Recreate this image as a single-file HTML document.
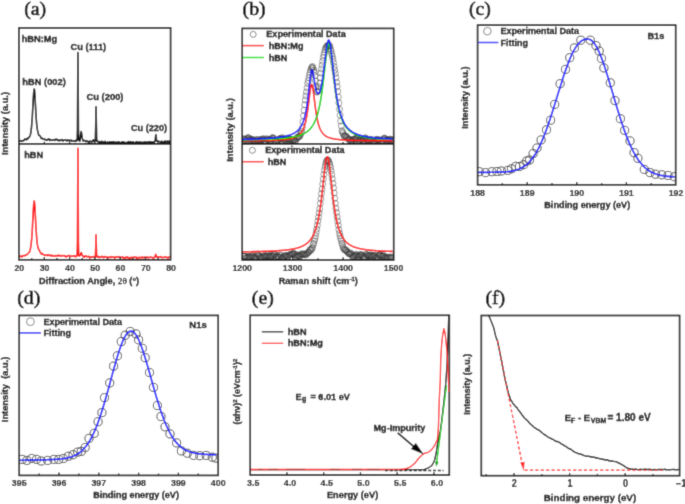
<!DOCTYPE html>
<html><head><meta charset="utf-8"><style>
html,body{margin:0;padding:0;background:#fff;width:685px;height:504px;overflow:hidden;}
svg{display:block;}
</style></head><body>
<svg width="685" height="504" viewBox="0 0 685 504"><defs><filter id="soft" x="0" y="0" width="685" height="504" filterUnits="userSpaceOnUse"><feConvolveMatrix order="3" kernelMatrix="0.01917 0.10012 0.01917 0.10012 0.52283 0.10012 0.01917 0.10012 0.01917" edgeMode="duplicate" preserveAlpha="true"/></filter></defs><rect width="685" height="504" fill="#fff"/><g filter="url(#soft)"><rect width="685" height="504" fill="#fff"/><text x="24.2" y="14.6" font-family="Liberation Serif" font-size="19.8" font-weight="normal" text-anchor="start" fill="#000" stroke="#000" stroke-width="0.6" >(a)</text>
<path d="M19.51,141.31 L19.81,141.01 L20.11,140.75 L20.42,140.50 L20.72,140.75 L21.02,141.25 L21.33,141.36 L21.63,141.12 L21.93,140.82 L22.24,141.03 L22.54,141.20 L22.85,140.72 L23.15,140.55 L23.45,140.66 L23.76,140.48 L24.06,140.28 L24.36,139.43 L24.67,139.37 L24.97,138.87 L25.27,139.27 L25.58,139.18 L25.88,139.71 L26.19,139.70 L26.49,139.90 L26.79,138.91 L27.10,138.55 L27.40,138.41 L27.70,138.99 L28.01,138.47 L28.31,138.08 L28.61,137.45 L28.92,137.31 L29.22,137.34 L29.52,136.87 L29.83,136.44 L30.13,135.54 L30.44,134.50 L30.74,133.03 L31.04,130.92 L31.35,128.70 L31.65,125.32 L31.95,121.55 L32.26,117.45 L32.56,112.20 L32.86,106.76 L33.17,100.55 L33.47,95.38 L33.78,91.47 L34.08,89.45 L34.18,89.11 L34.38,89.05 L34.69,91.78 L34.99,96.64 L35.29,102.29 L35.60,107.74 L35.90,113.34 L36.20,118.34 L36.51,122.23 L36.81,125.44 L37.11,127.55 L37.42,129.89 L37.72,131.09 L38.03,132.29 L38.23,132.86 L38.33,133.78 L38.63,135.04 L38.94,135.31 L39.24,135.32 L39.54,135.60 L39.85,135.79 L40.15,136.24 L40.45,136.33 L40.76,137.59 L41.06,138.20 L41.37,138.37 L41.67,138.10 L41.97,138.01 L42.28,138.75 L42.58,138.89 L42.88,139.02 L43.19,138.80 L43.49,139.01 L43.79,139.15 L44.10,138.80 L44.40,138.92 L44.70,138.93 L45.01,139.68 L45.31,139.94 L45.62,140.13 L45.92,140.03 L46.22,139.78 L46.53,140.14 L46.83,139.97 L47.13,140.29 L47.44,139.61 L47.74,139.74 L48.04,139.09 L48.35,138.88 L48.65,138.71 L48.96,138.96 L49.26,139.64 L49.56,140.41 L49.87,140.45 L50.17,140.22 L50.47,139.62 L50.78,140.02 L51.08,140.17 L51.38,140.05 L51.69,140.12 L51.99,140.33 L52.29,140.09 L52.60,139.86 L52.90,139.72 L53.21,139.72 L53.51,139.82 L53.81,139.56 L54.12,140.17 L54.42,140.15 L54.72,140.44 L55.03,139.98 L55.33,139.89 L55.63,139.27 L55.94,139.11 L56.24,139.26 L56.55,139.23 L56.85,139.83 L56.95,139.20 L57.15,140.07 L57.46,139.57 L57.76,140.34 L58.06,140.16 L58.37,139.96 L58.67,140.12 L58.97,140.52 L59.28,140.97 L59.58,140.53 L59.88,140.06 L60.19,139.80 L60.49,140.23 L60.80,140.13 L61.10,140.42 L61.40,139.87 L61.71,139.86 L62.01,139.51 L62.31,140.14 L62.62,140.30 L62.92,140.99 L63.22,140.63 L63.53,140.49 L63.83,140.12 L64.14,139.96 L64.44,140.19 L64.74,140.20 L65.05,140.29 L65.35,139.89 L65.65,139.78 L65.96,140.39 L66.26,140.62 L66.56,140.56 L66.87,140.18 L67.17,140.82 L67.47,140.72 L67.78,140.57 L68.08,139.98 L68.39,139.90 L68.69,140.20 L68.99,140.40 L69.30,140.97 L69.60,140.54 L69.90,140.70 L70.21,140.53 L70.51,140.73 L70.81,140.27 L71.12,140.08 L71.42,140.54 L71.73,140.73 L72.03,141.20 L72.33,140.80 L72.64,140.83 L72.94,140.60 L73.24,140.80 L73.55,140.85 L73.85,140.96 L74.15,140.78 L74.46,141.22 L74.76,141.47 L75.06,141.56 L75.37,141.02 L75.67,140.36 L75.98,140.47 L76.28,140.83 L76.58,141.01 L76.89,140.53 L77.19,139.52 L77.49,130.02 L77.80,73.42 L77.95,52.66 L78.10,73.25 L78.40,129.29 L78.71,139.45 L79.01,140.06 L79.32,140.96 L79.62,141.23 L79.92,141.05 L80.23,139.27 L80.53,136.13 L80.83,133.36 L81.14,131.60 L81.24,131.96 L81.44,132.55 L81.74,134.68 L82.05,136.62 L82.35,138.31 L82.65,139.84 L82.96,140.86 L83.26,141.00 L83.57,140.83 L83.87,140.51 L84.17,140.50 L84.48,140.51 L84.78,140.50 L85.08,140.73 L85.39,141.03 L85.69,141.67 L85.99,141.24 L86.30,141.08 L86.60,140.68 L86.91,140.72 L87.21,140.99 L87.51,141.07 L87.82,141.46 L88.12,141.52 L88.42,142.37 L88.73,141.86 L89.03,142.04 L89.33,141.41 L89.64,141.84 L89.94,141.15 L90.24,141.05 L90.55,141.28 L90.85,141.70 L91.16,141.88 L91.46,141.57 L91.76,141.95 L92.07,141.93 L92.37,141.36 L92.67,140.80 L92.98,140.22 L93.28,139.90 L93.58,139.94 L93.89,140.91 L94.19,141.86 L94.50,141.60 L94.80,140.79 L95.10,140.82 L95.41,139.24 L95.71,126.61 L96.01,107.08 L96.04,106.86 L96.32,122.65 L96.62,138.60 L96.92,141.54 L97.23,141.38 L97.53,141.53 L97.83,141.35 L98.14,142.05 L98.44,141.56 L98.75,141.76 L99.05,141.45 L99.35,141.46 L99.66,142.03 L99.96,142.49 L100.26,142.76 L100.57,142.49 L100.87,142.18 L101.17,141.55 L101.48,141.40 L101.78,141.28 L102.09,142.10 L102.39,141.72 L102.69,141.66 L103.00,141.59 L103.30,142.28 L103.60,142.47 L103.91,142.54 L104.21,142.65 L104.51,142.39 L104.82,142.28 L105.12,141.29 L105.42,141.93 L105.73,142.35 L106.03,143.18 L106.34,142.92 L106.64,142.67 L106.94,142.47 L107.25,142.20 L107.55,142.11 L107.85,142.07 L108.16,142.61 L108.46,142.84 L108.76,142.82 L109.07,142.20 L109.37,141.85 L109.68,142.35 L109.98,142.69 L110.28,142.91 L110.59,142.33 L110.89,141.85 L111.19,141.82 L111.50,142.19 L111.80,142.41 L112.10,142.37 L112.41,142.05 L112.71,142.21 L113.01,141.80 L113.32,141.80 L113.62,141.52 L113.93,142.27 L114.23,142.12 L114.53,142.55 L114.84,142.75 L115.14,142.89 L115.44,142.55 L115.75,142.15 L116.05,142.25 L116.35,142.14 L116.66,142.23 L116.96,142.84 L117.27,143.06 L117.57,142.87 L117.87,141.96 L118.18,142.13 L118.48,141.83 L118.78,141.81 L119.09,142.10 L119.39,142.21 L119.69,142.87 L120.00,142.95 L120.30,143.30 L120.60,143.15 L120.91,143.28 L121.21,143.15 L121.52,142.81 L121.82,141.82 L122.12,141.90 L122.43,142.52 L122.73,143.22 L123.03,142.93 L123.34,142.23 L123.64,141.80 L123.94,142.17 L124.25,142.37 L124.55,142.59 L124.86,142.59 L125.16,142.57 L125.46,142.49 L125.77,142.47 L126.07,142.54 L126.37,142.70 L126.68,143.20 L126.98,143.41 L127.28,143.28 L127.59,142.21 L127.89,142.15 L128.19,141.55 L128.50,141.64 L128.80,141.78 L129.11,142.58 L129.41,142.96 L129.71,142.19 L130.02,141.87 L130.32,141.71 L130.62,142.42 L130.93,143.21 L131.23,143.48 L131.53,143.05 L131.84,142.02 L132.14,141.94 L132.45,142.12 L132.75,142.13 L133.05,142.18 L133.36,141.89 L133.66,142.57 L133.96,142.85 L134.27,143.52 L134.57,143.05 L134.87,142.88 L135.18,142.52 L135.48,142.54 L135.78,142.29 L136.09,141.94 L136.39,141.62 L136.70,141.96 L137.00,142.29 L137.30,142.79 L137.61,142.85 L137.91,142.38 L138.21,142.08 L138.52,141.83 L138.82,142.47 L139.12,142.59 L139.43,142.84 L139.73,142.79 L140.04,142.53 L140.34,141.94 L140.64,142.12 L140.95,142.62 L141.25,142.33 L141.55,142.49 L141.86,142.53 L142.16,143.50 L142.46,142.97 L142.77,142.70 L143.07,141.96 L143.37,142.83 L143.68,142.87 L143.98,143.68 L144.29,142.72 L144.59,142.82 L144.89,141.84 L145.20,141.91 L145.50,142.15 L145.80,142.28 L146.11,142.71 L146.41,142.51 L146.71,142.57 L147.02,142.09 L147.32,141.85 L147.63,142.14 L147.93,142.13 L148.23,142.01 L148.54,141.93 L148.84,141.78 L149.14,141.63 L149.45,141.71 L149.75,142.27 L150.05,142.19 L150.36,142.20 L150.66,141.74 L150.96,141.90 L151.27,142.14 L151.57,142.17 L151.88,142.91 L152.18,142.41 L152.48,142.67 L152.79,142.14 L153.09,142.13 L153.39,142.17 L153.70,142.16 L154.00,142.53 L154.30,142.28 L154.61,141.89 L154.91,141.29 L155.22,139.97 L155.52,137.61 L155.82,134.72 L155.87,134.62 L156.13,135.39 L156.43,139.13 L156.73,140.69 L157.04,141.26 L157.34,141.19 L157.64,141.91 L157.95,142.02 L158.25,141.73 L158.55,141.19 L158.86,141.31 L159.16,141.76 L159.47,141.74 L159.77,141.86 L160.07,141.92 L160.38,141.93 L160.68,142.27 L160.98,141.80 L161.29,141.66 L161.59,140.97 L161.89,141.82 L162.20,142.08 L162.50,142.70 L162.81,142.12 L163.11,142.26 L163.41,142.20 L163.72,142.77 L164.02,142.41 L164.32,141.92 L164.63,141.03 L164.93,140.94 L165.23,141.62 L165.54,142.17 L165.84,142.27 L166.14,141.62 L166.45,141.26 L166.75,141.96 L167.06,141.53 L167.36,141.78 L167.66,141.04 L167.97,142.19 L168.27,141.70 L168.57,141.93 L168.88,141.16 L169.18,141.18 L169.48,141.68 L169.79,142.37 L170.09,142.53 L170.40,141.85" fill="none" stroke="#0a0a0a" stroke-width="1.6" stroke-linejoin="round" />
<path d="M19.51,256.02 L19.81,256.35 L20.11,256.38 L20.42,256.13 L20.72,256.10 L21.02,256.07 L21.33,256.51 L21.63,256.86 L21.93,256.80 L22.24,256.34 L22.54,255.91 L22.85,255.76 L23.15,255.71 L23.45,255.65 L23.76,255.50 L24.06,255.70 L24.36,255.62 L24.67,255.79 L24.97,255.55 L25.27,255.33 L25.58,254.98 L25.88,254.86 L26.19,254.77 L26.49,254.86 L26.79,254.76 L27.10,254.42 L27.40,254.19 L27.70,253.71 L28.01,253.61 L28.31,253.25 L28.61,252.77 L28.92,252.52 L29.22,252.13 L29.52,251.93 L29.83,251.08 L30.13,250.01 L30.44,248.60 L30.74,247.02 L31.04,244.90 L31.35,242.46 L31.65,238.96 L31.95,235.08 L32.26,230.33 L32.56,225.13 L32.86,219.10 L33.17,213.17 L33.47,207.33 L33.78,203.22 L34.08,200.94 L34.18,201.16 L34.38,201.67 L34.69,204.31 L34.99,208.84 L35.29,214.50 L35.60,220.58 L35.90,226.27 L36.20,230.90 L36.51,235.29 L36.81,239.13 L37.11,242.59 L37.42,244.88 L37.72,246.16 L38.03,247.56 L38.23,248.24 L38.33,248.38 L38.63,249.13 L38.94,249.55 L39.24,250.37 L39.54,250.66 L39.85,251.63 L40.15,252.20 L40.45,252.71 L40.76,253.11 L41.06,253.78 L41.37,253.96 L41.67,253.79 L41.97,253.42 L42.28,253.49 L42.58,253.79 L42.88,254.28 L43.19,254.58 L43.49,254.81 L43.79,254.69 L44.10,254.76 L44.40,254.80 L44.70,255.16 L45.01,255.46 L45.31,255.46 L45.62,255.34 L45.92,255.26 L46.22,255.03 L46.53,254.81 L46.83,254.89 L47.13,255.12 L47.44,255.54 L47.74,255.12 L48.04,255.08 L48.35,254.92 L48.65,255.11 L48.96,254.75 L49.26,254.82 L49.56,255.19 L49.87,255.73 L50.17,255.69 L50.47,255.52 L50.78,255.60 L51.08,255.18 L51.38,255.16 L51.69,255.13 L51.99,255.82 L52.29,256.19 L52.60,256.31 L52.90,256.24 L53.21,255.96 L53.51,255.89 L53.81,255.72 L54.12,255.66 L54.42,255.68 L54.72,256.18 L55.03,256.16 L55.33,255.97 L55.63,255.62 L55.94,255.92 L56.24,255.92 L56.55,256.18 L56.85,255.72 L57.15,255.69 L57.46,255.36 L57.76,255.71 L58.06,255.96 L58.37,255.70 L58.67,255.37 L58.97,255.23 L59.28,255.41 L59.48,255.29 L59.58,255.43 L59.88,255.67 L60.19,256.08 L60.49,255.78 L60.80,255.90 L61.10,255.76 L61.40,256.09 L61.71,255.71 L62.01,255.60 L62.31,255.43 L62.62,255.48 L62.92,255.80 L63.22,255.83 L63.53,255.79 L63.83,255.69 L64.14,255.58 L64.44,255.96 L64.74,255.84 L65.05,255.83 L65.35,255.91 L65.65,256.50 L65.96,257.00 L66.26,256.79 L66.56,256.40 L66.87,256.32 L67.17,256.30 L67.47,256.08 L67.78,255.81 L68.08,255.94 L68.39,255.99 L68.69,255.65 L68.99,255.29 L69.30,255.60 L69.60,255.80 L69.90,256.07 L70.21,256.00 L70.51,256.29 L70.81,256.26 L71.12,256.33 L71.42,256.04 L71.73,256.05 L72.03,255.76 L72.33,256.17 L72.64,256.25 L72.94,256.31 L73.24,256.02 L73.55,255.99 L73.85,256.28 L74.15,256.03 L74.46,255.86 L74.76,255.64 L75.06,256.45 L75.37,256.82 L75.67,256.82 L75.98,256.38 L76.28,256.48 L76.58,256.23 L76.89,255.58 L77.19,254.25 L77.49,242.45 L77.80,173.51 L77.95,148.30 L78.10,173.46 L78.40,242.82 L78.71,254.97 L79.01,255.88 L79.32,255.53 L79.62,255.67 L79.92,255.36 L80.23,255.43 L80.53,254.70 L80.83,253.79 L81.14,252.78 L81.24,252.68 L81.44,252.81 L81.74,253.90 L82.05,254.65 L82.35,255.47 L82.65,255.52 L82.96,256.12 L83.26,256.34 L83.57,257.09 L83.87,257.27 L84.17,257.26 L84.48,256.70 L84.78,256.14 L85.08,255.91 L85.39,256.19 L85.69,256.40 L85.99,256.25 L86.30,256.44 L86.60,256.13 L86.91,256.60 L87.21,256.52 L87.51,256.77 L87.82,256.71 L88.12,256.63 L88.42,256.58 L88.73,256.27 L89.03,256.38 L89.33,256.88 L89.64,257.62 L89.94,257.90 L90.24,257.67 L90.55,257.15 L90.85,257.18 L91.16,257.04 L91.46,257.16 L91.76,256.82 L92.07,256.86 L92.37,256.79 L92.67,256.83 L92.98,256.60 L93.28,256.61 L93.58,257.07 L93.89,257.27 L94.19,257.28 L94.50,256.89 L94.80,256.98 L95.10,256.66 L95.41,255.66 L95.71,248.26 L96.01,234.96 L96.04,234.81 L96.32,246.22 L96.62,255.53 L96.92,256.81 L97.23,256.59 L97.53,257.11 L97.83,256.76 L98.14,256.76 L98.44,256.38 L98.75,256.92 L99.05,257.19 L99.35,257.59 L99.66,257.15 L99.96,257.19 L100.26,256.86 L100.57,257.05 L100.87,257.02 L101.17,256.90 L101.48,256.63 L101.78,256.45 L102.09,256.34 L102.39,256.63 L102.69,256.79 L103.00,257.16 L103.30,257.61 L103.60,257.50 L103.91,257.14 L104.21,256.67 L104.51,256.53 L104.82,256.60 L105.12,256.85 L105.42,256.91 L105.73,256.76 L106.03,256.82 L106.34,256.93 L106.64,257.40 L106.94,257.29 L107.25,257.44 L107.55,257.38 L107.85,257.61 L108.16,257.58 L108.46,257.65 L108.76,257.49 L109.07,257.12 L109.37,257.01 L109.68,256.88 L109.98,257.22 L110.28,256.99 L110.59,257.37 L110.89,257.35 L111.19,257.39 L111.50,256.72 L111.80,256.65 L112.10,256.88 L112.41,257.08 L112.71,257.16 L113.01,257.05 L113.32,257.31 L113.62,257.15 L113.93,257.27 L114.23,257.36 L114.53,258.02 L114.84,257.83 L115.14,257.55 L115.44,256.87 L115.75,257.23 L116.05,257.10 L116.35,257.17 L116.66,257.01 L116.96,257.05 L117.27,256.96 L117.57,256.87 L117.87,256.65 L118.18,256.56 L118.48,256.57 L118.78,257.02 L119.09,257.28 L119.39,257.01 L119.69,256.89 L120.00,257.09 L120.30,257.56 L120.60,257.64 L120.91,257.30 L121.21,257.32 L121.52,257.22 L121.82,257.17 L122.12,256.88 L122.43,257.29 L122.73,257.57 L123.03,257.97 L123.34,257.58 L123.64,257.73 L123.94,257.38 L124.25,257.45 L124.55,257.76 L124.86,258.03 L125.16,257.97 L125.46,257.45 L125.77,257.37 L126.07,257.71 L126.37,257.63 L126.68,257.22 L126.98,256.92 L127.28,257.02 L127.59,257.40 L127.89,257.72 L128.19,257.78 L128.50,257.92 L128.80,257.44 L129.11,257.55 L129.41,257.81 L129.71,258.18 L130.02,258.06 L130.32,257.67 L130.62,257.88 L130.93,257.64 L131.23,257.59 L131.53,257.32 L131.84,257.66 L132.14,257.59 L132.45,257.56 L132.75,257.36 L133.05,257.47 L133.36,257.39 L133.66,257.21 L133.96,257.18 L134.27,257.39 L134.57,257.42 L134.87,257.38 L135.18,257.34 L135.48,257.31 L135.78,257.40 L136.09,257.05 L136.39,257.49 L136.70,257.92 L137.00,258.54 L137.30,258.27 L137.61,257.95 L137.91,257.57 L138.21,257.63 L138.52,257.79 L138.82,257.51 L139.12,257.70 L139.43,257.38 L139.73,257.92 L140.04,257.75 L140.34,257.62 L140.64,257.39 L140.95,257.50 L141.25,257.64 L141.55,257.68 L141.86,257.43 L142.16,257.00 L142.46,257.08 L142.77,257.32 L143.07,257.78 L143.37,257.61 L143.68,257.67 L143.98,257.55 L144.29,257.39 L144.59,257.15 L144.89,257.48 L145.20,257.34 L145.50,257.61 L145.80,257.24 L146.11,257.30 L146.41,257.31 L146.71,257.42 L147.02,257.38 L147.32,257.05 L147.63,257.25 L147.93,257.75 L148.23,257.73 L148.54,257.63 L148.84,257.53 L149.14,257.48 L149.45,257.47 L149.75,257.32 L150.05,257.33 L150.36,257.16 L150.66,257.18 L150.96,257.29 L151.27,257.27 L151.57,257.16 L151.88,257.37 L152.18,257.52 L152.48,257.78 L152.79,257.78 L153.09,257.85 L153.39,258.11 L153.70,257.68 L154.00,257.68 L154.30,257.05 L154.61,257.37 L154.91,257.13 L155.22,256.20 L155.52,254.98 L155.82,254.40 L155.87,254.87 L156.13,255.48 L156.43,255.93 L156.73,256.51 L157.04,256.97 L157.34,257.24 L157.64,257.49 L157.95,256.96 L158.25,257.13 L158.55,256.73 L158.86,257.38 L159.16,257.21 L159.47,257.24 L159.77,257.12 L160.07,256.99 L160.38,256.98 L160.68,256.59 L160.98,256.77 L161.29,257.05 L161.59,257.57 L161.89,257.54 L162.20,257.65 L162.50,257.45 L162.81,257.45 L163.11,257.36 L163.41,257.56 L163.72,257.51 L164.02,257.34 L164.32,257.09 L164.63,257.18 L164.93,257.04 L165.23,257.28 L165.54,257.18 L165.84,257.45 L166.14,257.07 L166.45,257.22 L166.75,257.20 L167.06,257.28 L167.36,257.61 L167.66,257.60 L167.97,258.04 L168.27,257.82 L168.57,257.61 L168.88,257.18 L169.18,257.07 L169.48,257.21 L169.79,257.29 L170.09,257.14 L170.40,256.77" fill="none" stroke="#ff0000" stroke-width="1.6" stroke-linejoin="round" />
<rect x="18.9" y="27.9" width="151.7" height="231.9" fill="none" stroke="#141414" stroke-width="1.7"/>
<line x1="18.9" y1="143.8" x2="170.6" y2="143.8" stroke="#141414" stroke-width="1.7"/>
<line x1="44.30" y1="259.8" x2="44.30" y2="257.0" stroke="#141414" stroke-width="1.3"/>
<line x1="69.60" y1="259.8" x2="69.60" y2="257.0" stroke="#141414" stroke-width="1.3"/>
<line x1="94.90" y1="259.8" x2="94.90" y2="257.0" stroke="#141414" stroke-width="1.3"/>
<line x1="120.20" y1="259.8" x2="120.20" y2="257.0" stroke="#141414" stroke-width="1.3"/>
<line x1="145.50" y1="259.8" x2="145.50" y2="257.0" stroke="#141414" stroke-width="1.3"/>
<line x1="31.65" y1="259.8" x2="31.65" y2="258.0" stroke="#141414" stroke-width="1.3"/>
<line x1="56.95" y1="259.8" x2="56.95" y2="258.0" stroke="#141414" stroke-width="1.3"/>
<line x1="82.25" y1="259.8" x2="82.25" y2="258.0" stroke="#141414" stroke-width="1.3"/>
<line x1="107.55" y1="259.8" x2="107.55" y2="258.0" stroke="#141414" stroke-width="1.3"/>
<line x1="132.85" y1="259.8" x2="132.85" y2="258.0" stroke="#141414" stroke-width="1.3"/>
<line x1="158.15" y1="259.8" x2="158.15" y2="258.0" stroke="#141414" stroke-width="1.3"/>
<line x1="44.30" y1="143.8" x2="44.30" y2="141.8" stroke="#141414" stroke-width="1.3"/>
<line x1="69.60" y1="143.8" x2="69.60" y2="141.8" stroke="#141414" stroke-width="1.3"/>
<line x1="94.90" y1="143.8" x2="94.90" y2="141.8" stroke="#141414" stroke-width="1.3"/>
<line x1="120.20" y1="143.8" x2="120.20" y2="141.8" stroke="#141414" stroke-width="1.3"/>
<line x1="145.50" y1="143.8" x2="145.50" y2="141.8" stroke="#141414" stroke-width="1.3"/>
<text x="0" y="0" transform="translate(19.30,270.70) scale(0.97,1.08)" font-family="Liberation Sans" font-size="9.1" font-weight="bold" text-anchor="middle" fill="#0c0c0c" stroke="#0c0c0c" stroke-width="0.12">20</text>
<text x="0" y="0" transform="translate(44.60,270.70) scale(0.97,1.08)" font-family="Liberation Sans" font-size="9.1" font-weight="bold" text-anchor="middle" fill="#0c0c0c" stroke="#0c0c0c" stroke-width="0.12">30</text>
<text x="0" y="0" transform="translate(69.90,270.70) scale(0.97,1.08)" font-family="Liberation Sans" font-size="9.1" font-weight="bold" text-anchor="middle" fill="#0c0c0c" stroke="#0c0c0c" stroke-width="0.12">40</text>
<text x="0" y="0" transform="translate(95.20,270.70) scale(0.97,1.08)" font-family="Liberation Sans" font-size="9.1" font-weight="bold" text-anchor="middle" fill="#0c0c0c" stroke="#0c0c0c" stroke-width="0.12">50</text>
<text x="0" y="0" transform="translate(120.50,270.70) scale(0.97,1.08)" font-family="Liberation Sans" font-size="9.1" font-weight="bold" text-anchor="middle" fill="#0c0c0c" stroke="#0c0c0c" stroke-width="0.12">60</text>
<text x="0" y="0" transform="translate(145.80,270.70) scale(0.97,1.08)" font-family="Liberation Sans" font-size="9.1" font-weight="bold" text-anchor="middle" fill="#0c0c0c" stroke="#0c0c0c" stroke-width="0.12">70</text>
<text x="0" y="0" transform="translate(171.10,270.70) scale(0.97,1.08)" font-family="Liberation Sans" font-size="9.1" font-weight="bold" text-anchor="middle" fill="#0c0c0c" stroke="#0c0c0c" stroke-width="0.12">80</text>
<text x="39.0" y="283.9" font-family="Liberation Sans" font-size="9.2" font-weight="bold" text-anchor="start" fill="#0c0c0c" stroke="#0c0c0c" stroke-width="0.32" >Diffraction Angle, <tspan font-family="Liberation Serif" font-weight="normal">2θ</tspan> (°)</text>
<text x="21.55" y="41.7" font-family="Liberation Sans" font-size="9.34" font-weight="bold" text-anchor="start" fill="#0c0c0c" stroke="#0c0c0c" stroke-width="0.32" >hBN:Mg</text>
<text x="22.35" y="85.0" font-family="Liberation Sans" font-size="9.3" font-weight="bold" text-anchor="start" fill="#0c0c0c" stroke="#0c0c0c" stroke-width="0.32" >hBN (002)</text>
<text x="70.42" y="49.9" font-family="Liberation Sans" font-size="9.34" font-weight="bold" text-anchor="start" fill="#0c0c0c" stroke="#0c0c0c" stroke-width="0.32" >Cu (111)</text>
<text x="86.51" y="99.9" font-family="Liberation Sans" font-size="9.39" font-weight="bold" text-anchor="start" fill="#0c0c0c" stroke="#0c0c0c" stroke-width="0.32" >Cu (200)</text>
<text x="130.92" y="130.5" font-family="Liberation Sans" font-size="9.18" font-weight="bold" text-anchor="start" fill="#0c0c0c" stroke="#0c0c0c" stroke-width="0.32" >Cu (220)</text>
<text x="24.26" y="158.0" font-family="Liberation Sans" font-size="9.2" font-weight="bold" text-anchor="start" fill="#0c0c0c" stroke="#0c0c0c" stroke-width="0.32" >hBN</text>
<text x="0" y="0" transform="translate(8.0,123.5) rotate(-90)" font-family="Liberation Sans" font-size="9.3" font-weight="bold" text-anchor="middle" fill="#0c0c0c" stroke="#0c0c0c" stroke-width="0.32">Intensity (a.u.)</text>
<text x="242.6" y="14.6" font-family="Liberation Serif" font-size="19.8" font-weight="normal" text-anchor="start" fill="#000" stroke="#000" stroke-width="0.6" >(b)</text>
<clipPath id="cb1"><rect x="242.2" y="28.4" width="151.5" height="115.5"/></clipPath>
<g fill="none" stroke="#3a3a3a" stroke-width="0.5" clip-path="url(#cb1)">
<circle cx="243.50" cy="139.09" r="3"/>
<circle cx="244.10" cy="138.82" r="3"/>
<circle cx="244.70" cy="139.61" r="3"/>
<circle cx="245.30" cy="139.29" r="3"/>
<circle cx="245.90" cy="139.81" r="3"/>
<circle cx="246.50" cy="139.42" r="3"/>
<circle cx="247.10" cy="138.60" r="3"/>
<circle cx="247.70" cy="137.88" r="3"/>
<circle cx="248.30" cy="137.55" r="3"/>
<circle cx="248.90" cy="137.96" r="3"/>
<circle cx="249.50" cy="139.37" r="3"/>
<circle cx="250.10" cy="139.89" r="3"/>
<circle cx="250.70" cy="140.74" r="3"/>
<circle cx="251.30" cy="139.15" r="3"/>
<circle cx="251.90" cy="139.87" r="3"/>
<circle cx="252.50" cy="139.35" r="3"/>
<circle cx="253.10" cy="140.04" r="3"/>
<circle cx="253.70" cy="140.18" r="3"/>
<circle cx="254.30" cy="141.28" r="3"/>
<circle cx="254.90" cy="141.40" r="3"/>
<circle cx="255.50" cy="141.16" r="3"/>
<circle cx="256.10" cy="139.70" r="3"/>
<circle cx="256.70" cy="139.90" r="3"/>
<circle cx="257.30" cy="139.69" r="3"/>
<circle cx="257.90" cy="140.65" r="3"/>
<circle cx="258.50" cy="140.31" r="3"/>
<circle cx="259.10" cy="141.36" r="3"/>
<circle cx="259.70" cy="139.85" r="3"/>
<circle cx="260.30" cy="139.71" r="3"/>
<circle cx="260.90" cy="139.24" r="3"/>
<circle cx="261.50" cy="140.10" r="3"/>
<circle cx="262.10" cy="139.83" r="3"/>
<circle cx="262.70" cy="139.21" r="3"/>
<circle cx="263.30" cy="138.66" r="3"/>
<circle cx="263.90" cy="139.13" r="3"/>
<circle cx="264.50" cy="140.57" r="3"/>
<circle cx="265.10" cy="141.91" r="3"/>
<circle cx="265.70" cy="141.24" r="3"/>
<circle cx="266.30" cy="139.47" r="3"/>
<circle cx="266.90" cy="138.63" r="3"/>
<circle cx="267.50" cy="139.75" r="3"/>
<circle cx="268.10" cy="139.77" r="3"/>
<circle cx="268.70" cy="139.61" r="3"/>
<circle cx="269.30" cy="139.54" r="3"/>
<circle cx="269.90" cy="140.43" r="3"/>
<circle cx="270.50" cy="140.59" r="3"/>
<circle cx="271.10" cy="139.52" r="3"/>
<circle cx="271.70" cy="138.22" r="3"/>
<circle cx="272.30" cy="138.04" r="3"/>
<circle cx="272.90" cy="137.44" r="3"/>
<circle cx="273.50" cy="138.66" r="3"/>
<circle cx="274.10" cy="138.69" r="3"/>
<circle cx="274.70" cy="140.12" r="3"/>
<circle cx="275.30" cy="140.71" r="3"/>
<circle cx="275.90" cy="141.66" r="3"/>
<circle cx="276.50" cy="140.78" r="3"/>
<circle cx="277.10" cy="140.23" r="3"/>
<circle cx="277.70" cy="140.21" r="3"/>
<circle cx="278.30" cy="140.42" r="3"/>
<circle cx="278.90" cy="139.43" r="3"/>
<circle cx="279.50" cy="138.75" r="3"/>
<circle cx="280.10" cy="138.28" r="3"/>
<circle cx="280.70" cy="139.56" r="3"/>
<circle cx="281.30" cy="138.32" r="3"/>
<circle cx="281.90" cy="138.57" r="3"/>
<circle cx="282.50" cy="137.63" r="3"/>
<circle cx="283.10" cy="138.78" r="3"/>
<circle cx="283.70" cy="139.45" r="3"/>
<circle cx="284.30" cy="139.73" r="3"/>
<circle cx="284.90" cy="139.72" r="3"/>
<circle cx="285.50" cy="140.24" r="3"/>
<circle cx="286.10" cy="138.95" r="3"/>
<circle cx="286.70" cy="139.07" r="3"/>
<circle cx="287.30" cy="138.08" r="3"/>
<circle cx="287.90" cy="139.29" r="3"/>
<circle cx="288.50" cy="139.41" r="3"/>
<circle cx="289.10" cy="139.30" r="3"/>
<circle cx="289.70" cy="138.89" r="3"/>
<circle cx="290.30" cy="139.17" r="3"/>
<circle cx="290.90" cy="139.78" r="3"/>
<circle cx="291.50" cy="139.70" r="3"/>
<circle cx="292.10" cy="140.31" r="3"/>
<circle cx="292.70" cy="141.29" r="3"/>
<circle cx="293.30" cy="140.82" r="3"/>
<circle cx="293.90" cy="139.83" r="3"/>
<circle cx="294.50" cy="139.88" r="3"/>
<circle cx="295.10" cy="141.02" r="3"/>
<circle cx="295.70" cy="140.67" r="3"/>
<circle cx="296.30" cy="138.93" r="3"/>
<circle cx="296.90" cy="137.92" r="3"/>
<circle cx="297.50" cy="137.39" r="3"/>
<circle cx="298.10" cy="136.90" r="3"/>
<circle cx="298.70" cy="137.20" r="3"/>
<circle cx="299.30" cy="136.53" r="3"/>
<circle cx="299.90" cy="136.02" r="3"/>
<circle cx="300.50" cy="134.41" r="3"/>
<circle cx="301.10" cy="133.17" r="3"/>
<circle cx="301.70" cy="131.49" r="3"/>
<circle cx="302.30" cy="127.55" r="3"/>
<circle cx="302.90" cy="121.89" r="3"/>
<circle cx="303.50" cy="115.80" r="3"/>
<circle cx="304.10" cy="110.24" r="3"/>
<circle cx="304.70" cy="104.78" r="3"/>
<circle cx="305.30" cy="99.90" r="3"/>
<circle cx="305.90" cy="95.92" r="3"/>
<circle cx="306.50" cy="91.94" r="3"/>
<circle cx="307.10" cy="87.85" r="3"/>
<circle cx="307.70" cy="83.50" r="3"/>
<circle cx="308.30" cy="80.80" r="3"/>
<circle cx="308.90" cy="77.72" r="3"/>
<circle cx="309.50" cy="74.93" r="3"/>
<circle cx="310.10" cy="72.40" r="3"/>
<circle cx="310.70" cy="70.05" r="3"/>
<circle cx="311.30" cy="68.18" r="3"/>
<circle cx="311.90" cy="67.20" r="3"/>
<circle cx="312.50" cy="66.55" r="3"/>
<circle cx="313.10" cy="68.17" r="3"/>
<circle cx="313.70" cy="70.23" r="3"/>
<circle cx="314.30" cy="72.24" r="3"/>
<circle cx="314.90" cy="75.72" r="3"/>
<circle cx="315.50" cy="81.12" r="3"/>
<circle cx="316.10" cy="86.46" r="3"/>
<circle cx="316.70" cy="91.93" r="3"/>
<circle cx="317.30" cy="92.02" r="3"/>
<circle cx="317.90" cy="91.09" r="3"/>
<circle cx="318.50" cy="89.50" r="3"/>
<circle cx="319.10" cy="86.86" r="3"/>
<circle cx="319.70" cy="82.99" r="3"/>
<circle cx="320.30" cy="77.77" r="3"/>
<circle cx="320.90" cy="73.01" r="3"/>
<circle cx="321.50" cy="68.88" r="3"/>
<circle cx="322.10" cy="65.16" r="3"/>
<circle cx="322.70" cy="61.25" r="3"/>
<circle cx="323.30" cy="57.57" r="3"/>
<circle cx="323.90" cy="54.88" r="3"/>
<circle cx="324.50" cy="52.28" r="3"/>
<circle cx="325.10" cy="49.82" r="3"/>
<circle cx="325.70" cy="47.85" r="3"/>
<circle cx="326.30" cy="47.00" r="3"/>
<circle cx="326.90" cy="46.00" r="3"/>
<circle cx="327.50" cy="45.52" r="3"/>
<circle cx="328.10" cy="45.21" r="3"/>
<circle cx="328.70" cy="45.41" r="3"/>
<circle cx="329.30" cy="45.24" r="3"/>
<circle cx="329.90" cy="46.80" r="3"/>
<circle cx="330.50" cy="48.91" r="3"/>
<circle cx="331.10" cy="50.95" r="3"/>
<circle cx="331.70" cy="53.73" r="3"/>
<circle cx="332.30" cy="56.27" r="3"/>
<circle cx="332.90" cy="59.17" r="3"/>
<circle cx="333.50" cy="62.66" r="3"/>
<circle cx="334.10" cy="66.50" r="3"/>
<circle cx="334.70" cy="70.06" r="3"/>
<circle cx="335.30" cy="73.49" r="3"/>
<circle cx="335.90" cy="77.70" r="3"/>
<circle cx="336.50" cy="82.29" r="3"/>
<circle cx="337.10" cy="86.60" r="3"/>
<circle cx="337.70" cy="91.45" r="3"/>
<circle cx="338.30" cy="97.07" r="3"/>
<circle cx="338.90" cy="102.96" r="3"/>
<circle cx="339.50" cy="109.20" r="3"/>
<circle cx="340.10" cy="115.09" r="3"/>
<circle cx="340.70" cy="121.16" r="3"/>
<circle cx="341.30" cy="125.89" r="3"/>
<circle cx="341.90" cy="130.74" r="3"/>
<circle cx="342.50" cy="132.06" r="3"/>
<circle cx="343.10" cy="133.48" r="3"/>
<circle cx="343.70" cy="135.25" r="3"/>
<circle cx="344.30" cy="136.57" r="3"/>
<circle cx="344.90" cy="135.90" r="3"/>
<circle cx="345.50" cy="136.13" r="3"/>
<circle cx="346.10" cy="136.01" r="3"/>
<circle cx="346.70" cy="137.02" r="3"/>
<circle cx="347.30" cy="137.52" r="3"/>
<circle cx="347.90" cy="138.62" r="3"/>
<circle cx="348.50" cy="139.52" r="3"/>
<circle cx="349.10" cy="139.23" r="3"/>
<circle cx="349.70" cy="139.47" r="3"/>
<circle cx="350.30" cy="139.72" r="3"/>
<circle cx="350.90" cy="140.68" r="3"/>
<circle cx="351.50" cy="141.02" r="3"/>
<circle cx="352.10" cy="140.41" r="3"/>
<circle cx="352.70" cy="139.81" r="3"/>
<circle cx="353.30" cy="139.60" r="3"/>
<circle cx="353.90" cy="139.05" r="3"/>
<circle cx="354.50" cy="139.34" r="3"/>
<circle cx="355.10" cy="138.70" r="3"/>
<circle cx="355.70" cy="139.25" r="3"/>
<circle cx="356.30" cy="138.23" r="3"/>
<circle cx="356.90" cy="138.05" r="3"/>
<circle cx="357.50" cy="138.25" r="3"/>
<circle cx="358.10" cy="139.67" r="3"/>
<circle cx="358.70" cy="140.69" r="3"/>
<circle cx="359.30" cy="140.67" r="3"/>
<circle cx="359.90" cy="140.11" r="3"/>
<circle cx="360.50" cy="139.16" r="3"/>
<circle cx="361.10" cy="139.43" r="3"/>
<circle cx="361.70" cy="139.42" r="3"/>
<circle cx="362.30" cy="140.20" r="3"/>
<circle cx="362.90" cy="140.94" r="3"/>
<circle cx="363.50" cy="141.07" r="3"/>
<circle cx="364.10" cy="139.96" r="3"/>
<circle cx="364.70" cy="138.58" r="3"/>
<circle cx="365.30" cy="137.84" r="3"/>
<circle cx="365.90" cy="138.02" r="3"/>
<circle cx="366.50" cy="139.19" r="3"/>
<circle cx="367.10" cy="140.10" r="3"/>
<circle cx="367.70" cy="139.94" r="3"/>
<circle cx="368.30" cy="139.61" r="3"/>
<circle cx="368.90" cy="140.18" r="3"/>
<circle cx="369.50" cy="140.82" r="3"/>
<circle cx="370.10" cy="140.12" r="3"/>
<circle cx="370.70" cy="139.26" r="3"/>
<circle cx="371.30" cy="139.60" r="3"/>
<circle cx="371.90" cy="140.30" r="3"/>
<circle cx="372.50" cy="141.10" r="3"/>
<circle cx="373.10" cy="141.59" r="3"/>
<circle cx="373.70" cy="141.88" r="3"/>
<circle cx="374.30" cy="141.97" r="3"/>
<circle cx="374.90" cy="141.67" r="3"/>
<circle cx="375.50" cy="140.21" r="3"/>
<circle cx="376.10" cy="139.41" r="3"/>
<circle cx="376.70" cy="139.22" r="3"/>
<circle cx="377.30" cy="139.83" r="3"/>
<circle cx="377.90" cy="140.38" r="3"/>
<circle cx="378.50" cy="140.02" r="3"/>
<circle cx="379.10" cy="139.72" r="3"/>
<circle cx="379.70" cy="140.00" r="3"/>
<circle cx="380.30" cy="140.54" r="3"/>
<circle cx="380.90" cy="141.15" r="3"/>
<circle cx="381.50" cy="140.87" r="3"/>
<circle cx="382.10" cy="141.07" r="3"/>
<circle cx="382.70" cy="141.13" r="3"/>
<circle cx="383.30" cy="139.32" r="3"/>
<circle cx="383.90" cy="138.39" r="3"/>
<circle cx="384.50" cy="137.96" r="3"/>
<circle cx="385.10" cy="138.74" r="3"/>
<circle cx="385.70" cy="139.20" r="3"/>
<circle cx="386.30" cy="140.08" r="3"/>
<circle cx="386.90" cy="140.34" r="3"/>
<circle cx="387.50" cy="139.62" r="3"/>
<circle cx="388.10" cy="140.06" r="3"/>
<circle cx="388.70" cy="140.07" r="3"/>
<circle cx="389.30" cy="140.02" r="3"/>
<circle cx="389.90" cy="139.06" r="3"/>
<circle cx="390.50" cy="139.52" r="3"/>
<circle cx="391.10" cy="139.79" r="3"/>
<circle cx="391.70" cy="140.08" r="3"/>
<circle cx="392.30" cy="139.59" r="3"/>
</g>
<path d="M243.00,140.77 L243.30,140.77 L243.60,140.77 L243.90,140.76 L244.20,140.76 L244.50,140.76 L244.80,140.76 L245.10,140.75 L245.40,140.75 L245.70,140.75 L246.00,140.75 L246.30,140.75 L246.60,140.74 L246.90,140.74 L247.20,140.74 L247.50,140.74 L247.80,140.73 L248.10,140.73 L248.40,140.73 L248.70,140.73 L249.00,140.72 L249.30,140.72 L249.60,140.72 L249.90,140.72 L250.20,140.71 L250.50,140.71 L250.80,140.71 L251.10,140.70 L251.40,140.70 L251.70,140.70 L252.00,140.69 L252.30,140.69 L252.60,140.69 L252.90,140.69 L253.20,140.68 L253.50,140.68 L253.80,140.68 L254.10,140.67 L254.40,140.67 L254.70,140.67 L255.00,140.66 L255.30,140.66 L255.60,140.65 L255.90,140.65 L256.20,140.65 L256.50,140.64 L256.80,140.64 L257.10,140.64 L257.40,140.63 L257.70,140.63 L258.00,140.62 L258.30,140.62 L258.60,140.61 L258.90,140.61 L259.20,140.61 L259.50,140.60 L259.80,140.60 L260.10,140.59 L260.40,140.59 L260.70,140.58 L261.00,140.58 L261.30,140.57 L261.60,140.57 L261.90,140.56 L262.20,140.56 L262.50,140.55 L262.80,140.55 L263.10,140.54 L263.40,140.53 L263.70,140.53 L264.00,140.52 L264.30,140.52 L264.60,140.51 L264.90,140.50 L265.20,140.50 L265.50,140.49 L265.80,140.49 L266.10,140.48 L266.40,140.47 L266.70,140.46 L267.00,140.46 L267.30,140.45 L267.60,140.44 L267.90,140.44 L268.20,140.43 L268.50,140.42 L268.80,140.41 L269.10,140.40 L269.40,140.40 L269.70,140.39 L270.00,140.38 L270.30,140.37 L270.60,140.36 L270.90,140.35 L271.20,140.34 L271.50,140.33 L271.80,140.32 L272.10,140.31 L272.40,140.30 L272.70,140.29 L273.00,140.28 L273.30,140.27 L273.60,140.26 L273.90,140.24 L274.20,140.23 L274.50,140.22 L274.80,140.21 L275.10,140.20 L275.40,140.18 L275.70,140.17 L276.00,140.15 L276.30,140.14 L276.60,140.13 L276.90,140.11 L277.20,140.10 L277.50,140.08 L277.80,140.06 L278.10,140.05 L278.40,140.03 L278.70,140.01 L279.00,140.00 L279.30,139.98 L279.60,139.96 L279.90,139.94 L280.20,139.92 L280.50,139.90 L280.80,139.88 L281.10,139.86 L281.40,139.83 L281.70,139.81 L282.00,139.79 L282.30,139.76 L282.60,139.74 L282.90,139.71 L283.20,139.68 L283.50,139.66 L283.80,139.63 L284.10,139.60 L284.40,139.57 L284.70,139.54 L285.00,139.51 L285.30,139.47 L285.60,139.44 L285.90,139.40 L286.20,139.37 L286.50,139.33 L286.80,139.29 L287.10,139.25 L287.40,139.21 L287.70,139.16 L288.00,139.12 L288.30,139.07 L288.60,139.02 L288.90,138.97 L289.20,138.92 L289.50,138.86 L289.80,138.81 L290.10,138.75 L290.40,138.69 L290.70,138.62 L291.00,138.56 L291.30,138.49 L291.60,138.42 L291.90,138.34 L292.20,138.26 L292.50,138.18 L292.80,138.10 L293.10,138.01 L293.40,137.91 L293.70,137.81 L294.00,137.71 L294.30,137.60 L294.60,137.49 L294.90,137.37 L295.20,137.25 L295.50,137.12 L295.80,136.98 L296.10,136.84 L296.40,136.68 L296.70,136.52 L297.00,136.35 L297.30,136.18 L297.60,135.99 L297.90,135.79 L298.20,135.57 L298.50,135.35 L298.80,135.11 L299.10,134.86 L299.40,134.59 L299.70,134.30 L300.00,134.00 L300.30,133.67 L300.60,133.33 L300.90,132.96 L301.20,132.56 L301.50,132.14 L301.80,131.68 L302.10,131.19 L302.40,130.67 L302.70,130.10 L303.00,129.49 L303.30,128.84 L303.60,128.13 L303.90,127.36 L304.20,126.53 L304.50,125.64 L304.80,124.67 L305.10,123.62 L305.40,122.48 L305.70,121.24 L306.00,119.90 L306.30,118.46 L306.60,116.89 L306.90,115.20 L307.20,113.38 L307.50,111.44 L307.80,109.36 L308.10,107.16 L308.40,104.84 L308.70,102.43 L309.00,99.96 L309.30,97.46 L309.60,94.98 L309.90,92.60 L310.20,90.38 L310.50,88.41 L310.80,86.77 L311.10,85.53 L311.40,84.76 L311.70,84.50 L312.00,84.76 L312.30,85.53 L312.60,86.77 L312.90,88.41 L313.20,90.38 L313.50,92.60 L313.80,94.98 L314.10,97.46 L314.40,99.96 L314.70,102.43 L315.00,104.84 L315.30,107.16 L315.60,109.36 L315.90,111.44 L316.20,113.38 L316.50,115.20 L316.80,116.89 L317.10,118.46 L317.40,119.90 L317.70,121.24 L318.00,122.48 L318.30,123.62 L318.60,124.67 L318.90,125.64 L319.20,126.53 L319.50,127.36 L319.80,128.13 L320.10,128.84 L320.40,129.49 L320.70,130.10 L321.00,130.67 L321.30,131.19 L321.60,131.68 L321.90,132.14 L322.20,132.56 L322.50,132.96 L322.80,133.33 L323.10,133.67 L323.40,134.00 L323.70,134.30 L324.00,134.59 L324.30,134.86 L324.60,135.11 L324.90,135.35 L325.20,135.57 L325.50,135.79 L325.80,135.99 L326.10,136.18 L326.40,136.35 L326.70,136.52 L327.00,136.68 L327.30,136.84 L327.60,136.98 L327.90,137.12 L328.20,137.25 L328.50,137.37 L328.80,137.49 L329.10,137.60 L329.40,137.71 L329.70,137.81 L330.00,137.91 L330.30,138.01 L330.60,138.10 L330.90,138.18 L331.20,138.26 L331.50,138.34 L331.80,138.42 L332.10,138.49 L332.40,138.56 L332.70,138.62 L333.00,138.69 L333.30,138.75 L333.60,138.81 L333.90,138.86 L334.20,138.92 L334.50,138.97 L334.80,139.02 L335.10,139.07 L335.40,139.12 L335.70,139.16 L336.00,139.21 L336.30,139.25 L336.60,139.29 L336.90,139.33 L337.20,139.37 L337.50,139.40 L337.80,139.44 L338.10,139.47 L338.40,139.51 L338.70,139.54 L339.00,139.57 L339.30,139.60 L339.60,139.63 L339.90,139.66 L340.20,139.68 L340.50,139.71 L340.80,139.74 L341.10,139.76 L341.40,139.79 L341.70,139.81 L342.00,139.83 L342.30,139.86 L342.60,139.88 L342.90,139.90 L343.20,139.92 L343.50,139.94 L343.80,139.96 L344.10,139.98 L344.40,140.00 L344.70,140.01 L345.00,140.03 L345.30,140.05 L345.60,140.06 L345.90,140.08 L346.20,140.10 L346.50,140.11 L346.80,140.13 L347.10,140.14 L347.40,140.15 L347.70,140.17 L348.00,140.18 L348.30,140.20 L348.60,140.21 L348.90,140.22 L349.20,140.23 L349.50,140.24 L349.80,140.26 L350.10,140.27 L350.40,140.28 L350.70,140.29 L351.00,140.30 L351.30,140.31 L351.60,140.32 L351.90,140.33 L352.20,140.34 L352.50,140.35 L352.80,140.36 L353.10,140.37 L353.40,140.38 L353.70,140.39 L354.00,140.40 L354.30,140.40 L354.60,140.41 L354.90,140.42 L355.20,140.43 L355.50,140.44 L355.80,140.44 L356.10,140.45 L356.40,140.46 L356.70,140.46 L357.00,140.47 L357.30,140.48 L357.60,140.49 L357.90,140.49 L358.20,140.50 L358.50,140.50 L358.80,140.51 L359.10,140.52 L359.40,140.52 L359.70,140.53 L360.00,140.53 L360.30,140.54 L360.60,140.55 L360.90,140.55 L361.20,140.56 L361.50,140.56 L361.80,140.57 L362.10,140.57 L362.40,140.58 L362.70,140.58 L363.00,140.59 L363.30,140.59 L363.60,140.60 L363.90,140.60 L364.20,140.61 L364.50,140.61 L364.80,140.61 L365.10,140.62 L365.40,140.62 L365.70,140.63 L366.00,140.63 L366.30,140.64 L366.60,140.64 L366.90,140.64 L367.20,140.65 L367.50,140.65 L367.80,140.65 L368.10,140.66 L368.40,140.66 L368.70,140.67 L369.00,140.67 L369.30,140.67 L369.60,140.68 L369.90,140.68 L370.20,140.68 L370.50,140.69 L370.80,140.69 L371.10,140.69 L371.40,140.69 L371.70,140.70 L372.00,140.70 L372.30,140.70 L372.60,140.71 L372.90,140.71 L373.20,140.71 L373.50,140.72 L373.80,140.72 L374.10,140.72 L374.40,140.72 L374.70,140.73 L375.00,140.73 L375.30,140.73 L375.60,140.73 L375.90,140.74 L376.20,140.74 L376.50,140.74 L376.80,140.74 L377.10,140.75 L377.40,140.75 L377.70,140.75 L378.00,140.75 L378.30,140.75 L378.60,140.76 L378.90,140.76 L379.20,140.76 L379.50,140.76 L379.80,140.77 L380.10,140.77 L380.40,140.77 L380.70,140.77 L381.00,140.77 L381.30,140.78 L381.60,140.78 L381.90,140.78 L382.20,140.78 L382.50,140.78 L382.80,140.78 L383.10,140.79 L383.40,140.79 L383.70,140.79 L384.00,140.79 L384.30,140.79 L384.60,140.79 L384.90,140.80 L385.20,140.80 L385.50,140.80 L385.80,140.80 L386.10,140.80 L386.40,140.80 L386.70,140.81 L387.00,140.81 L387.30,140.81 L387.60,140.81 L387.90,140.81 L388.20,140.81 L388.50,140.82 L388.80,140.82 L389.10,140.82 L389.40,140.82 L389.70,140.82 L390.00,140.82 L390.30,140.82 L390.60,140.82 L390.90,140.83 L391.20,140.83 L391.50,140.83 L391.80,140.83 L392.10,140.83 L392.40,140.83 L392.70,140.83" fill="none" stroke="#ff1010" stroke-width="1.6" stroke-linejoin="round" />
<path d="M243.00,139.88 L243.30,139.87 L243.60,139.87 L243.90,139.87 L244.20,139.86 L244.50,139.86 L244.80,139.85 L245.10,139.85 L245.40,139.84 L245.70,139.84 L246.00,139.83 L246.30,139.83 L246.60,139.82 L246.90,139.82 L247.20,139.81 L247.50,139.81 L247.80,139.80 L248.10,139.80 L248.40,139.79 L248.70,139.79 L249.00,139.78 L249.30,139.78 L249.60,139.77 L249.90,139.77 L250.20,139.76 L250.50,139.75 L250.80,139.75 L251.10,139.74 L251.40,139.74 L251.70,139.73 L252.00,139.73 L252.30,139.72 L252.60,139.71 L252.90,139.71 L253.20,139.70 L253.50,139.69 L253.80,139.69 L254.10,139.68 L254.40,139.68 L254.70,139.67 L255.00,139.66 L255.30,139.66 L255.60,139.65 L255.90,139.64 L256.20,139.63 L256.50,139.63 L256.80,139.62 L257.10,139.61 L257.40,139.61 L257.70,139.60 L258.00,139.59 L258.30,139.58 L258.60,139.57 L258.90,139.57 L259.20,139.56 L259.50,139.55 L259.80,139.54 L260.10,139.53 L260.40,139.53 L260.70,139.52 L261.00,139.51 L261.30,139.50 L261.60,139.49 L261.90,139.48 L262.20,139.47 L262.50,139.46 L262.80,139.45 L263.10,139.45 L263.40,139.44 L263.70,139.43 L264.00,139.42 L264.30,139.41 L264.60,139.40 L264.90,139.39 L265.20,139.38 L265.50,139.36 L265.80,139.35 L266.10,139.34 L266.40,139.33 L266.70,139.32 L267.00,139.31 L267.30,139.30 L267.60,139.29 L267.90,139.27 L268.20,139.26 L268.50,139.25 L268.80,139.24 L269.10,139.23 L269.40,139.21 L269.70,139.20 L270.00,139.19 L270.30,139.17 L270.60,139.16 L270.90,139.15 L271.20,139.13 L271.50,139.12 L271.80,139.10 L272.10,139.09 L272.40,139.07 L272.70,139.06 L273.00,139.04 L273.30,139.03 L273.60,139.01 L273.90,139.00 L274.20,138.98 L274.50,138.96 L274.80,138.95 L275.10,138.93 L275.40,138.91 L275.70,138.89 L276.00,138.88 L276.30,138.86 L276.60,138.84 L276.90,138.82 L277.20,138.80 L277.50,138.78 L277.80,138.76 L278.10,138.74 L278.40,138.72 L278.70,138.70 L279.00,138.68 L279.30,138.66 L279.60,138.63 L279.90,138.61 L280.20,138.59 L280.50,138.57 L280.80,138.54 L281.10,138.52 L281.40,138.49 L281.70,138.47 L282.00,138.44 L282.30,138.42 L282.60,138.39 L282.90,138.36 L283.20,138.34 L283.50,138.31 L283.80,138.28 L284.10,138.25 L284.40,138.22 L284.70,138.19 L285.00,138.16 L285.30,138.13 L285.60,138.09 L285.90,138.06 L286.20,138.03 L286.50,137.99 L286.80,137.96 L287.10,137.92 L287.40,137.89 L287.70,137.85 L288.00,137.81 L288.30,137.77 L288.60,137.73 L288.90,137.69 L289.20,137.65 L289.50,137.61 L289.80,137.56 L290.10,137.52 L290.40,137.48 L290.70,137.43 L291.00,137.38 L291.30,137.33 L291.60,137.28 L291.90,137.23 L292.20,137.18 L292.50,137.13 L292.80,137.07 L293.10,137.02 L293.40,136.96 L293.70,136.90 L294.00,136.84 L294.30,136.78 L294.60,136.72 L294.90,136.65 L295.20,136.59 L295.50,136.52 L295.80,136.45 L296.10,136.38 L296.40,136.30 L296.70,136.23 L297.00,136.15 L297.30,136.07 L297.60,135.99 L297.90,135.91 L298.20,135.82 L298.50,135.73 L298.80,135.64 L299.10,135.55 L299.40,135.45 L299.70,135.35 L300.00,135.25 L300.30,135.15 L300.60,135.04 L300.90,134.93 L301.20,134.81 L301.50,134.69 L301.80,134.57 L302.10,134.45 L302.40,134.32 L302.70,134.18 L303.00,134.05 L303.30,133.90 L303.60,133.76 L303.90,133.60 L304.20,133.45 L304.50,133.29 L304.80,133.12 L305.10,132.94 L305.40,132.76 L305.70,132.58 L306.00,132.39 L306.30,132.19 L306.60,131.98 L306.90,131.77 L307.20,131.55 L307.50,131.32 L307.80,131.08 L308.10,130.83 L308.40,130.57 L308.70,130.31 L309.00,130.03 L309.30,129.74 L309.60,129.44 L309.90,129.13 L310.20,128.80 L310.50,128.46 L310.80,128.11 L311.10,127.74 L311.40,127.36 L311.70,126.96 L312.00,126.54 L312.30,126.11 L312.60,125.65 L312.90,125.18 L313.20,124.68 L313.50,124.16 L313.80,123.61 L314.10,123.04 L314.40,122.44 L314.70,121.82 L315.00,121.16 L315.30,120.47 L315.60,119.75 L315.90,118.99 L316.20,118.19 L316.50,117.35 L316.80,116.47 L317.10,115.55 L317.40,114.57 L317.70,113.55 L318.00,112.47 L318.30,111.34 L318.60,110.14 L318.90,108.88 L319.20,107.56 L319.50,106.17 L319.80,104.70 L320.10,103.16 L320.40,101.54 L320.70,99.84 L321.00,98.05 L321.30,96.17 L321.60,94.21 L321.90,92.15 L322.20,90.00 L322.50,87.76 L322.80,85.44 L323.10,83.02 L323.40,80.53 L323.70,77.96 L324.00,75.34 L324.30,72.66 L324.60,69.94 L324.90,67.21 L325.20,64.49 L325.50,61.80 L325.80,59.17 L326.10,56.64 L326.40,54.24 L326.70,52.00 L327.00,49.96 L327.30,48.16 L327.60,46.64 L327.90,45.42 L328.20,44.53 L328.50,43.98 L328.80,43.80 L329.10,43.98 L329.40,44.53 L329.70,45.42 L330.00,46.64 L330.30,48.16 L330.60,49.96 L330.90,52.00 L331.20,54.24 L331.50,56.64 L331.80,59.17 L332.10,61.80 L332.40,64.49 L332.70,67.21 L333.00,69.94 L333.30,72.66 L333.60,75.34 L333.90,77.96 L334.20,80.53 L334.50,83.02 L334.80,85.44 L335.10,87.76 L335.40,90.00 L335.70,92.15 L336.00,94.21 L336.30,96.17 L336.60,98.05 L336.90,99.84 L337.20,101.54 L337.50,103.16 L337.80,104.70 L338.10,106.17 L338.40,107.56 L338.70,108.88 L339.00,110.14 L339.30,111.34 L339.60,112.47 L339.90,113.55 L340.20,114.57 L340.50,115.55 L340.80,116.47 L341.10,117.35 L341.40,118.19 L341.70,118.99 L342.00,119.75 L342.30,120.47 L342.60,121.16 L342.90,121.82 L343.20,122.44 L343.50,123.04 L343.80,123.61 L344.10,124.16 L344.40,124.68 L344.70,125.18 L345.00,125.65 L345.30,126.11 L345.60,126.54 L345.90,126.96 L346.20,127.36 L346.50,127.74 L346.80,128.11 L347.10,128.46 L347.40,128.80 L347.70,129.13 L348.00,129.44 L348.30,129.74 L348.60,130.03 L348.90,130.31 L349.20,130.57 L349.50,130.83 L349.80,131.08 L350.10,131.32 L350.40,131.55 L350.70,131.77 L351.00,131.98 L351.30,132.19 L351.60,132.39 L351.90,132.58 L352.20,132.76 L352.50,132.94 L352.80,133.12 L353.10,133.29 L353.40,133.45 L353.70,133.60 L354.00,133.76 L354.30,133.90 L354.60,134.05 L354.90,134.18 L355.20,134.32 L355.50,134.45 L355.80,134.57 L356.10,134.69 L356.40,134.81 L356.70,134.93 L357.00,135.04 L357.30,135.15 L357.60,135.25 L357.90,135.35 L358.20,135.45 L358.50,135.55 L358.80,135.64 L359.10,135.73 L359.40,135.82 L359.70,135.91 L360.00,135.99 L360.30,136.07 L360.60,136.15 L360.90,136.23 L361.20,136.30 L361.50,136.38 L361.80,136.45 L362.10,136.52 L362.40,136.59 L362.70,136.65 L363.00,136.72 L363.30,136.78 L363.60,136.84 L363.90,136.90 L364.20,136.96 L364.50,137.02 L364.80,137.07 L365.10,137.13 L365.40,137.18 L365.70,137.23 L366.00,137.28 L366.30,137.33 L366.60,137.38 L366.90,137.43 L367.20,137.48 L367.50,137.52 L367.80,137.56 L368.10,137.61 L368.40,137.65 L368.70,137.69 L369.00,137.73 L369.30,137.77 L369.60,137.81 L369.90,137.85 L370.20,137.89 L370.50,137.92 L370.80,137.96 L371.10,137.99 L371.40,138.03 L371.70,138.06 L372.00,138.09 L372.30,138.13 L372.60,138.16 L372.90,138.19 L373.20,138.22 L373.50,138.25 L373.80,138.28 L374.10,138.31 L374.40,138.34 L374.70,138.36 L375.00,138.39 L375.30,138.42 L375.60,138.44 L375.90,138.47 L376.20,138.49 L376.50,138.52 L376.80,138.54 L377.10,138.57 L377.40,138.59 L377.70,138.61 L378.00,138.63 L378.30,138.66 L378.60,138.68 L378.90,138.70 L379.20,138.72 L379.50,138.74 L379.80,138.76 L380.10,138.78 L380.40,138.80 L380.70,138.82 L381.00,138.84 L381.30,138.86 L381.60,138.88 L381.90,138.89 L382.20,138.91 L382.50,138.93 L382.80,138.95 L383.10,138.96 L383.40,138.98 L383.70,139.00 L384.00,139.01 L384.30,139.03 L384.60,139.04 L384.90,139.06 L385.20,139.07 L385.50,139.09 L385.80,139.10 L386.10,139.12 L386.40,139.13 L386.70,139.15 L387.00,139.16 L387.30,139.17 L387.60,139.19 L387.90,139.20 L388.20,139.21 L388.50,139.23 L388.80,139.24 L389.10,139.25 L389.40,139.26 L389.70,139.27 L390.00,139.29 L390.30,139.30 L390.60,139.31 L390.90,139.32 L391.20,139.33 L391.50,139.34 L391.80,139.35 L392.10,139.36 L392.40,139.38 L392.70,139.39" fill="none" stroke="#00d000" stroke-width="1.6" stroke-linejoin="round" />
<path d="M243.00,139.35 L243.30,139.34 L243.60,139.34 L243.90,139.33 L244.20,139.32 L244.50,139.32 L244.80,139.31 L245.10,139.30 L245.40,139.29 L245.70,139.29 L246.00,139.28 L246.30,139.27 L246.60,139.27 L246.90,139.26 L247.20,139.25 L247.50,139.24 L247.80,139.24 L248.10,139.23 L248.40,139.22 L248.70,139.21 L249.00,139.21 L249.30,139.20 L249.60,139.19 L249.90,139.18 L250.20,139.17 L250.50,139.16 L250.80,139.16 L251.10,139.15 L251.40,139.14 L251.70,139.13 L252.00,139.12 L252.30,139.11 L252.60,139.10 L252.90,139.09 L253.20,139.08 L253.50,139.07 L253.80,139.06 L254.10,139.05 L254.40,139.04 L254.70,139.03 L255.00,139.02 L255.30,139.01 L255.60,139.00 L255.90,138.99 L256.20,138.98 L256.50,138.97 L256.80,138.96 L257.10,138.95 L257.40,138.94 L257.70,138.93 L258.00,138.91 L258.30,138.90 L258.60,138.89 L258.90,138.88 L259.20,138.86 L259.50,138.85 L259.80,138.84 L260.10,138.83 L260.40,138.81 L260.70,138.80 L261.00,138.79 L261.30,138.77 L261.60,138.76 L261.90,138.74 L262.20,138.73 L262.50,138.72 L262.80,138.70 L263.10,138.69 L263.40,138.67 L263.70,138.65 L264.00,138.64 L264.30,138.62 L264.60,138.61 L264.90,138.59 L265.20,138.57 L265.50,138.56 L265.80,138.54 L266.10,138.52 L266.40,138.50 L266.70,138.49 L267.00,138.47 L267.30,138.45 L267.60,138.43 L267.90,138.41 L268.20,138.39 L268.50,138.37 L268.80,138.35 L269.10,138.33 L269.40,138.31 L269.70,138.29 L270.00,138.26 L270.30,138.24 L270.60,138.22 L270.90,138.20 L271.20,138.17 L271.50,138.15 L271.80,138.12 L272.10,138.10 L272.40,138.07 L272.70,138.05 L273.00,138.02 L273.30,138.00 L273.60,137.97 L273.90,137.94 L274.20,137.91 L274.50,137.88 L274.80,137.85 L275.10,137.82 L275.40,137.79 L275.70,137.76 L276.00,137.73 L276.30,137.70 L276.60,137.67 L276.90,137.63 L277.20,137.60 L277.50,137.56 L277.80,137.53 L278.10,137.49 L278.40,137.45 L278.70,137.41 L279.00,137.37 L279.30,137.33 L279.60,137.29 L279.90,137.25 L280.20,137.21 L280.50,137.16 L280.80,137.12 L281.10,137.07 L281.40,137.03 L281.70,136.98 L282.00,136.93 L282.30,136.88 L282.60,136.83 L282.90,136.77 L283.20,136.72 L283.50,136.66 L283.80,136.61 L284.10,136.55 L284.40,136.49 L284.70,136.43 L285.00,136.36 L285.30,136.30 L285.60,136.23 L285.90,136.16 L286.20,136.09 L286.50,136.02 L286.80,135.95 L287.10,135.87 L287.40,135.79 L287.70,135.71 L288.00,135.63 L288.30,135.54 L288.60,135.45 L288.90,135.36 L289.20,135.27 L289.50,135.17 L289.80,135.07 L290.10,134.97 L290.40,134.86 L290.70,134.75 L291.00,134.64 L291.30,134.52 L291.60,134.40 L291.90,134.27 L292.20,134.14 L292.50,134.01 L292.80,133.87 L293.10,133.72 L293.40,133.57 L293.70,133.42 L294.00,133.25 L294.30,133.09 L294.60,132.91 L294.90,132.73 L295.20,132.54 L295.50,132.34 L295.80,132.13 L296.10,131.91 L296.40,131.69 L296.70,131.45 L297.00,131.21 L297.30,130.95 L297.60,130.68 L297.90,130.39 L298.20,130.10 L298.50,129.78 L298.80,129.45 L299.10,129.11 L299.40,128.74 L299.70,128.36 L300.00,127.95 L300.30,127.52 L300.60,127.07 L300.90,126.58 L301.20,126.07 L301.50,125.53 L301.80,124.95 L302.10,124.34 L302.40,123.68 L302.70,122.98 L303.00,122.24 L303.30,121.44 L303.60,120.58 L303.90,119.67 L304.20,118.68 L304.50,117.62 L304.80,116.48 L305.10,115.26 L305.40,113.94 L305.70,112.52 L306.00,110.99 L306.30,109.34 L306.60,107.57 L306.90,105.67 L307.20,103.63 L307.50,101.45 L307.80,99.14 L308.10,96.69 L308.40,94.11 L308.70,91.44 L309.00,88.68 L309.30,85.90 L309.60,83.12 L309.90,80.43 L310.20,77.88 L310.50,75.58 L310.80,73.58 L311.10,71.97 L311.40,70.82 L311.70,70.16 L312.00,70.00 L312.30,70.34 L312.60,71.12 L312.90,72.29 L313.20,73.76 L313.50,75.46 L313.80,77.29 L314.10,79.20 L314.40,81.10 L314.70,82.95 L315.00,84.70 L315.30,86.33 L315.60,87.81 L315.90,89.13 L316.20,90.28 L316.50,91.26 L316.80,92.06 L317.10,92.70 L317.40,93.18 L317.70,93.49 L318.00,93.65 L318.30,93.65 L318.60,93.51 L318.90,93.22 L319.20,92.79 L319.50,92.23 L319.80,91.53 L320.10,90.70 L320.40,89.73 L320.70,88.64 L321.00,87.41 L321.30,86.06 L321.60,84.59 L321.90,82.99 L322.20,81.26 L322.50,79.42 L322.80,77.46 L323.10,75.40 L323.40,73.23 L323.70,70.97 L324.00,68.63 L324.30,66.22 L324.60,63.75 L324.90,61.26 L325.20,58.77 L325.50,56.29 L325.80,53.86 L326.10,51.52 L326.40,49.29 L326.70,47.22 L327.00,45.35 L327.30,43.70 L327.60,42.32 L327.90,41.24 L328.20,40.47 L328.50,40.06 L328.80,39.99 L329.10,40.29 L329.40,40.94 L329.70,41.93 L330.00,43.25 L330.30,44.87 L330.60,46.76 L330.90,48.88 L331.20,51.20 L331.50,53.68 L331.80,56.29 L332.10,58.99 L332.40,61.75 L332.70,64.54 L333.00,67.33 L333.30,70.11 L333.60,72.84 L333.90,75.53 L334.20,78.15 L334.50,80.69 L334.80,83.16 L335.10,85.53 L335.40,87.82 L335.70,90.01 L336.00,92.11 L336.30,94.12 L336.60,96.04 L336.90,97.87 L337.20,99.61 L337.50,101.26 L337.80,102.84 L338.10,104.34 L338.40,105.77 L338.70,107.12 L339.00,108.41 L339.30,109.64 L339.60,110.80 L339.90,111.91 L340.20,112.96 L340.50,113.96 L340.80,114.91 L341.10,115.82 L341.40,116.68 L341.70,117.50 L342.00,118.28 L342.30,119.03 L342.60,119.74 L342.90,120.42 L343.20,121.06 L343.50,121.68 L343.80,122.27 L344.10,122.83 L344.40,123.37 L344.70,123.89 L345.00,124.38 L345.30,124.85 L345.60,125.31 L345.90,125.74 L346.20,126.16 L346.50,126.55 L346.80,126.94 L347.10,127.30 L347.40,127.66 L347.70,128.00 L348.00,128.32 L348.30,128.63 L348.60,128.94 L348.90,129.23 L349.20,129.51 L349.50,129.77 L349.80,130.03 L350.10,130.28 L350.40,130.52 L350.70,130.76 L351.00,130.98 L351.30,131.20 L351.60,131.41 L351.90,131.61 L352.20,131.81 L352.50,131.99 L352.80,132.18 L353.10,132.35 L353.40,132.53 L353.70,132.69 L354.00,132.85 L354.30,133.01 L354.60,133.16 L354.90,133.30 L355.20,133.44 L355.50,133.58 L355.80,133.71 L356.10,133.84 L356.40,133.97 L356.70,134.09 L357.00,134.21 L357.30,134.32 L357.60,134.44 L357.90,134.54 L358.20,134.65 L358.50,134.75 L358.80,134.85 L359.10,134.95 L359.40,135.04 L359.70,135.14 L360.00,135.23 L360.30,135.31 L360.60,135.40 L360.90,135.48 L361.20,135.56 L361.50,135.64 L361.80,135.72 L362.10,135.79 L362.40,135.86 L362.70,135.94 L363.00,136.01 L363.30,136.07 L363.60,136.14 L363.90,136.20 L364.20,136.27 L364.50,136.33 L364.80,136.39 L365.10,136.45 L365.40,136.50 L365.70,136.56 L366.00,136.62 L366.30,136.67 L366.60,136.72 L366.90,136.77 L367.20,136.82 L367.50,136.87 L367.80,136.92 L368.10,136.97 L368.40,137.01 L368.70,137.06 L369.00,137.10 L369.30,137.14 L369.60,137.19 L369.90,137.23 L370.20,137.27 L370.50,137.31 L370.80,137.35 L371.10,137.39 L371.40,137.42 L371.70,137.46 L372.00,137.50 L372.30,137.53 L372.60,137.56 L372.90,137.60 L373.20,137.63 L373.50,137.66 L373.80,137.70 L374.10,137.73 L374.40,137.76 L374.70,137.79 L375.00,137.82 L375.30,137.85 L375.60,137.88 L375.90,137.90 L376.20,137.93 L376.50,137.96 L376.80,137.99 L377.10,138.01 L377.40,138.04 L377.70,138.06 L378.00,138.09 L378.30,138.11 L378.60,138.14 L378.90,138.16 L379.20,138.18 L379.50,138.20 L379.80,138.23 L380.10,138.25 L380.40,138.27 L380.70,138.29 L381.00,138.31 L381.30,138.33 L381.60,138.35 L381.90,138.37 L382.20,138.39 L382.50,138.41 L382.80,138.43 L383.10,138.45 L383.40,138.47 L383.70,138.49 L384.00,138.50 L384.30,138.52 L384.60,138.54 L384.90,138.56 L385.20,138.57 L385.50,138.59 L385.80,138.60 L386.10,138.62 L386.40,138.64 L386.70,138.65 L387.00,138.67 L387.30,138.68 L387.60,138.70 L387.90,138.71 L388.20,138.73 L388.50,138.74 L388.80,138.75 L389.10,138.77 L389.40,138.78 L389.70,138.80 L390.00,138.81 L390.30,138.82 L390.60,138.83 L390.90,138.85 L391.20,138.86 L391.50,138.87 L391.80,138.88 L392.10,138.90 L392.40,138.91 L392.70,138.92" fill="none" stroke="#1818ff" stroke-width="1.6" stroke-linejoin="round" />
<clipPath id="cb2"><rect x="242.2" y="143.9" width="151.5" height="116.1"/></clipPath>
<g fill="none" stroke="#3a3a3a" stroke-width="0.5" clip-path="url(#cb2)">
<circle cx="243.50" cy="256.21" r="3"/>
<circle cx="244.10" cy="256.36" r="3"/>
<circle cx="244.70" cy="256.44" r="3"/>
<circle cx="245.30" cy="255.98" r="3"/>
<circle cx="245.90" cy="257.82" r="3"/>
<circle cx="246.50" cy="257.26" r="3"/>
<circle cx="247.10" cy="258.05" r="3"/>
<circle cx="247.70" cy="256.52" r="3"/>
<circle cx="248.30" cy="256.82" r="3"/>
<circle cx="248.90" cy="256.47" r="3"/>
<circle cx="249.50" cy="256.97" r="3"/>
<circle cx="250.10" cy="257.71" r="3"/>
<circle cx="250.70" cy="257.50" r="3"/>
<circle cx="251.30" cy="256.70" r="3"/>
<circle cx="251.90" cy="255.74" r="3"/>
<circle cx="252.50" cy="255.83" r="3"/>
<circle cx="253.10" cy="256.46" r="3"/>
<circle cx="253.70" cy="257.49" r="3"/>
<circle cx="254.30" cy="257.44" r="3"/>
<circle cx="254.90" cy="257.69" r="3"/>
<circle cx="255.50" cy="257.75" r="3"/>
<circle cx="256.10" cy="257.62" r="3"/>
<circle cx="256.70" cy="256.26" r="3"/>
<circle cx="257.30" cy="254.82" r="3"/>
<circle cx="257.90" cy="253.96" r="3"/>
<circle cx="258.50" cy="255.60" r="3"/>
<circle cx="259.10" cy="255.77" r="3"/>
<circle cx="259.70" cy="257.19" r="3"/>
<circle cx="260.30" cy="256.65" r="3"/>
<circle cx="260.90" cy="258.02" r="3"/>
<circle cx="261.50" cy="257.89" r="3"/>
<circle cx="262.10" cy="257.52" r="3"/>
<circle cx="262.70" cy="256.50" r="3"/>
<circle cx="263.30" cy="256.00" r="3"/>
<circle cx="263.90" cy="256.15" r="3"/>
<circle cx="264.50" cy="255.97" r="3"/>
<circle cx="265.10" cy="255.90" r="3"/>
<circle cx="265.70" cy="256.66" r="3"/>
<circle cx="266.30" cy="256.04" r="3"/>
<circle cx="266.90" cy="256.19" r="3"/>
<circle cx="267.50" cy="254.84" r="3"/>
<circle cx="268.10" cy="255.84" r="3"/>
<circle cx="268.70" cy="256.15" r="3"/>
<circle cx="269.30" cy="256.60" r="3"/>
<circle cx="269.90" cy="256.91" r="3"/>
<circle cx="270.50" cy="255.61" r="3"/>
<circle cx="271.10" cy="256.22" r="3"/>
<circle cx="271.70" cy="255.48" r="3"/>
<circle cx="272.30" cy="256.66" r="3"/>
<circle cx="272.90" cy="256.16" r="3"/>
<circle cx="273.50" cy="255.10" r="3"/>
<circle cx="274.10" cy="254.36" r="3"/>
<circle cx="274.70" cy="254.37" r="3"/>
<circle cx="275.30" cy="256.57" r="3"/>
<circle cx="275.90" cy="257.12" r="3"/>
<circle cx="276.50" cy="257.14" r="3"/>
<circle cx="277.10" cy="255.55" r="3"/>
<circle cx="277.70" cy="256.15" r="3"/>
<circle cx="278.30" cy="256.97" r="3"/>
<circle cx="278.90" cy="257.73" r="3"/>
<circle cx="279.50" cy="256.85" r="3"/>
<circle cx="280.10" cy="255.01" r="3"/>
<circle cx="280.70" cy="255.46" r="3"/>
<circle cx="281.30" cy="257.01" r="3"/>
<circle cx="281.90" cy="258.25" r="3"/>
<circle cx="282.50" cy="258.44" r="3"/>
<circle cx="283.10" cy="257.28" r="3"/>
<circle cx="283.70" cy="256.36" r="3"/>
<circle cx="284.30" cy="256.39" r="3"/>
<circle cx="284.90" cy="255.43" r="3"/>
<circle cx="285.50" cy="255.83" r="3"/>
<circle cx="286.10" cy="255.26" r="3"/>
<circle cx="286.70" cy="256.37" r="3"/>
<circle cx="287.30" cy="256.70" r="3"/>
<circle cx="287.90" cy="256.74" r="3"/>
<circle cx="288.50" cy="255.85" r="3"/>
<circle cx="289.10" cy="254.93" r="3"/>
<circle cx="289.70" cy="254.74" r="3"/>
<circle cx="290.30" cy="254.75" r="3"/>
<circle cx="290.90" cy="254.72" r="3"/>
<circle cx="291.50" cy="254.00" r="3"/>
<circle cx="292.10" cy="254.10" r="3"/>
<circle cx="292.70" cy="253.79" r="3"/>
<circle cx="293.30" cy="253.73" r="3"/>
<circle cx="293.90" cy="253.10" r="3"/>
<circle cx="294.50" cy="254.16" r="3"/>
<circle cx="295.10" cy="255.07" r="3"/>
<circle cx="295.70" cy="256.99" r="3"/>
<circle cx="296.30" cy="256.07" r="3"/>
<circle cx="296.90" cy="255.46" r="3"/>
<circle cx="297.50" cy="254.85" r="3"/>
<circle cx="298.10" cy="255.50" r="3"/>
<circle cx="298.70" cy="255.65" r="3"/>
<circle cx="299.30" cy="256.04" r="3"/>
<circle cx="299.90" cy="255.93" r="3"/>
<circle cx="300.50" cy="255.45" r="3"/>
<circle cx="301.10" cy="253.78" r="3"/>
<circle cx="301.70" cy="254.08" r="3"/>
<circle cx="302.30" cy="254.79" r="3"/>
<circle cx="302.90" cy="254.68" r="3"/>
<circle cx="303.50" cy="253.88" r="3"/>
<circle cx="304.10" cy="253.89" r="3"/>
<circle cx="304.70" cy="254.80" r="3"/>
<circle cx="305.30" cy="254.82" r="3"/>
<circle cx="305.90" cy="254.67" r="3"/>
<circle cx="306.50" cy="254.43" r="3"/>
<circle cx="307.10" cy="253.53" r="3"/>
<circle cx="307.70" cy="252.68" r="3"/>
<circle cx="308.30" cy="252.17" r="3"/>
<circle cx="308.90" cy="252.30" r="3"/>
<circle cx="309.50" cy="250.71" r="3"/>
<circle cx="310.10" cy="249.60" r="3"/>
<circle cx="310.70" cy="249.42" r="3"/>
<circle cx="311.30" cy="250.36" r="3"/>
<circle cx="311.90" cy="248.11" r="3"/>
<circle cx="312.50" cy="247.67" r="3"/>
<circle cx="313.10" cy="244.83" r="3"/>
<circle cx="313.70" cy="243.42" r="3"/>
<circle cx="314.30" cy="241.02" r="3"/>
<circle cx="314.90" cy="238.89" r="3"/>
<circle cx="315.50" cy="236.00" r="3"/>
<circle cx="316.10" cy="232.55" r="3"/>
<circle cx="316.70" cy="229.11" r="3"/>
<circle cx="317.30" cy="225.28" r="3"/>
<circle cx="317.90" cy="221.09" r="3"/>
<circle cx="318.50" cy="217.18" r="3"/>
<circle cx="319.10" cy="212.91" r="3"/>
<circle cx="319.70" cy="208.91" r="3"/>
<circle cx="320.30" cy="203.45" r="3"/>
<circle cx="320.90" cy="198.62" r="3"/>
<circle cx="321.50" cy="193.59" r="3"/>
<circle cx="322.10" cy="189.05" r="3"/>
<circle cx="322.70" cy="183.99" r="3"/>
<circle cx="323.30" cy="178.94" r="3"/>
<circle cx="323.90" cy="174.36" r="3"/>
<circle cx="324.50" cy="170.10" r="3"/>
<circle cx="325.10" cy="166.60" r="3"/>
<circle cx="325.70" cy="163.78" r="3"/>
<circle cx="326.30" cy="161.76" r="3"/>
<circle cx="326.90" cy="160.49" r="3"/>
<circle cx="327.50" cy="159.69" r="3"/>
<circle cx="328.10" cy="160.16" r="3"/>
<circle cx="328.70" cy="161.16" r="3"/>
<circle cx="329.30" cy="162.69" r="3"/>
<circle cx="329.90" cy="164.79" r="3"/>
<circle cx="330.50" cy="167.31" r="3"/>
<circle cx="331.10" cy="170.69" r="3"/>
<circle cx="331.70" cy="174.55" r="3"/>
<circle cx="332.30" cy="178.78" r="3"/>
<circle cx="332.90" cy="183.39" r="3"/>
<circle cx="333.50" cy="187.85" r="3"/>
<circle cx="334.10" cy="193.01" r="3"/>
<circle cx="334.70" cy="198.31" r="3"/>
<circle cx="335.30" cy="203.35" r="3"/>
<circle cx="335.90" cy="208.23" r="3"/>
<circle cx="336.50" cy="212.52" r="3"/>
<circle cx="337.10" cy="216.96" r="3"/>
<circle cx="337.70" cy="220.98" r="3"/>
<circle cx="338.30" cy="225.34" r="3"/>
<circle cx="338.90" cy="229.58" r="3"/>
<circle cx="339.50" cy="233.24" r="3"/>
<circle cx="340.10" cy="235.96" r="3"/>
<circle cx="340.70" cy="238.46" r="3"/>
<circle cx="341.30" cy="240.80" r="3"/>
<circle cx="341.90" cy="243.22" r="3"/>
<circle cx="342.50" cy="245.06" r="3"/>
<circle cx="343.10" cy="247.34" r="3"/>
<circle cx="343.70" cy="248.67" r="3"/>
<circle cx="344.30" cy="249.43" r="3"/>
<circle cx="344.90" cy="250.11" r="3"/>
<circle cx="345.50" cy="249.75" r="3"/>
<circle cx="346.10" cy="250.56" r="3"/>
<circle cx="346.70" cy="250.64" r="3"/>
<circle cx="347.30" cy="252.00" r="3"/>
<circle cx="347.90" cy="252.15" r="3"/>
<circle cx="348.50" cy="253.31" r="3"/>
<circle cx="349.10" cy="253.92" r="3"/>
<circle cx="349.70" cy="253.91" r="3"/>
<circle cx="350.30" cy="253.62" r="3"/>
<circle cx="350.90" cy="253.04" r="3"/>
<circle cx="351.50" cy="254.33" r="3"/>
<circle cx="352.10" cy="255.78" r="3"/>
<circle cx="352.70" cy="256.83" r="3"/>
<circle cx="353.30" cy="256.33" r="3"/>
<circle cx="353.90" cy="256.27" r="3"/>
<circle cx="354.50" cy="255.07" r="3"/>
<circle cx="355.10" cy="256.10" r="3"/>
<circle cx="355.70" cy="255.02" r="3"/>
<circle cx="356.30" cy="254.39" r="3"/>
<circle cx="356.90" cy="255.04" r="3"/>
<circle cx="357.50" cy="256.26" r="3"/>
<circle cx="358.10" cy="257.23" r="3"/>
<circle cx="358.70" cy="255.93" r="3"/>
<circle cx="359.30" cy="255.00" r="3"/>
<circle cx="359.90" cy="255.64" r="3"/>
<circle cx="360.50" cy="254.78" r="3"/>
<circle cx="361.10" cy="254.55" r="3"/>
<circle cx="361.70" cy="254.77" r="3"/>
<circle cx="362.30" cy="255.70" r="3"/>
<circle cx="362.90" cy="256.72" r="3"/>
<circle cx="363.50" cy="256.53" r="3"/>
<circle cx="364.10" cy="257.69" r="3"/>
<circle cx="364.70" cy="256.68" r="3"/>
<circle cx="365.30" cy="256.79" r="3"/>
<circle cx="365.90" cy="254.53" r="3"/>
<circle cx="366.50" cy="254.26" r="3"/>
<circle cx="367.10" cy="254.85" r="3"/>
<circle cx="367.70" cy="255.38" r="3"/>
<circle cx="368.30" cy="256.34" r="3"/>
<circle cx="368.90" cy="255.61" r="3"/>
<circle cx="369.50" cy="255.57" r="3"/>
<circle cx="370.10" cy="255.11" r="3"/>
<circle cx="370.70" cy="254.88" r="3"/>
<circle cx="371.30" cy="255.19" r="3"/>
<circle cx="371.90" cy="255.79" r="3"/>
<circle cx="372.50" cy="256.42" r="3"/>
<circle cx="373.10" cy="256.38" r="3"/>
<circle cx="373.70" cy="255.51" r="3"/>
<circle cx="374.30" cy="255.32" r="3"/>
<circle cx="374.90" cy="255.58" r="3"/>
<circle cx="375.50" cy="256.62" r="3"/>
<circle cx="376.10" cy="257.89" r="3"/>
<circle cx="376.70" cy="258.40" r="3"/>
<circle cx="377.30" cy="257.85" r="3"/>
<circle cx="377.90" cy="256.34" r="3"/>
<circle cx="378.50" cy="255.44" r="3"/>
<circle cx="379.10" cy="254.99" r="3"/>
<circle cx="379.70" cy="254.55" r="3"/>
<circle cx="380.30" cy="254.80" r="3"/>
<circle cx="380.90" cy="255.06" r="3"/>
<circle cx="381.50" cy="256.00" r="3"/>
<circle cx="382.10" cy="256.00" r="3"/>
<circle cx="382.70" cy="256.13" r="3"/>
<circle cx="383.30" cy="255.09" r="3"/>
<circle cx="383.90" cy="256.19" r="3"/>
<circle cx="384.50" cy="256.57" r="3"/>
<circle cx="385.10" cy="258.17" r="3"/>
<circle cx="385.70" cy="257.73" r="3"/>
<circle cx="386.30" cy="258.26" r="3"/>
<circle cx="386.90" cy="257.17" r="3"/>
<circle cx="387.50" cy="257.14" r="3"/>
<circle cx="388.10" cy="257.79" r="3"/>
<circle cx="388.70" cy="257.27" r="3"/>
<circle cx="389.30" cy="257.52" r="3"/>
<circle cx="389.90" cy="256.99" r="3"/>
<circle cx="390.50" cy="257.87" r="3"/>
<circle cx="391.10" cy="257.65" r="3"/>
<circle cx="391.70" cy="257.43" r="3"/>
<circle cx="392.30" cy="256.85" r="3"/>
</g>
<path d="M243.00,251.82 L243.30,251.81 L243.60,251.81 L243.90,251.81 L244.20,251.80 L244.50,251.80 L244.80,251.79 L245.10,251.79 L245.40,251.78 L245.70,251.78 L246.00,251.77 L246.30,251.77 L246.60,251.76 L246.90,251.76 L247.20,251.76 L247.50,251.75 L247.80,251.75 L248.10,251.74 L248.40,251.74 L248.70,251.73 L249.00,251.73 L249.30,251.72 L249.60,251.72 L249.90,251.71 L250.20,251.70 L250.50,251.70 L250.80,251.69 L251.10,251.69 L251.40,251.68 L251.70,251.68 L252.00,251.67 L252.30,251.67 L252.60,251.66 L252.90,251.65 L253.20,251.65 L253.50,251.64 L253.80,251.64 L254.10,251.63 L254.40,251.62 L254.70,251.62 L255.00,251.61 L255.30,251.60 L255.60,251.60 L255.90,251.59 L256.20,251.58 L256.50,251.58 L256.80,251.57 L257.10,251.56 L257.40,251.56 L257.70,251.55 L258.00,251.54 L258.30,251.53 L258.60,251.53 L258.90,251.52 L259.20,251.51 L259.50,251.50 L259.80,251.49 L260.10,251.49 L260.40,251.48 L260.70,251.47 L261.00,251.46 L261.30,251.45 L261.60,251.44 L261.90,251.44 L262.20,251.43 L262.50,251.42 L262.80,251.41 L263.10,251.40 L263.40,251.39 L263.70,251.38 L264.00,251.37 L264.30,251.36 L264.60,251.35 L264.90,251.34 L265.20,251.33 L265.50,251.32 L265.80,251.31 L266.10,251.30 L266.40,251.29 L266.70,251.28 L267.00,251.27 L267.30,251.26 L267.60,251.25 L267.90,251.23 L268.20,251.22 L268.50,251.21 L268.80,251.20 L269.10,251.19 L269.40,251.17 L269.70,251.16 L270.00,251.15 L270.30,251.14 L270.60,251.12 L270.90,251.11 L271.20,251.09 L271.50,251.08 L271.80,251.07 L272.10,251.05 L272.40,251.04 L272.70,251.02 L273.00,251.01 L273.30,250.99 L273.60,250.98 L273.90,250.96 L274.20,250.95 L274.50,250.93 L274.80,250.91 L275.10,250.90 L275.40,250.88 L275.70,250.86 L276.00,250.84 L276.30,250.83 L276.60,250.81 L276.90,250.79 L277.20,250.77 L277.50,250.75 L277.80,250.73 L278.10,250.71 L278.40,250.69 L278.70,250.67 L279.00,250.65 L279.30,250.63 L279.60,250.60 L279.90,250.58 L280.20,250.56 L280.50,250.54 L280.80,250.51 L281.10,250.49 L281.40,250.46 L281.70,250.44 L282.00,250.41 L282.30,250.39 L282.60,250.36 L282.90,250.33 L283.20,250.31 L283.50,250.28 L283.80,250.25 L284.10,250.22 L284.40,250.19 L284.70,250.16 L285.00,250.13 L285.30,250.10 L285.60,250.06 L285.90,250.03 L286.20,250.00 L286.50,249.96 L286.80,249.93 L287.10,249.89 L287.40,249.85 L287.70,249.82 L288.00,249.78 L288.30,249.74 L288.60,249.70 L288.90,249.66 L289.20,249.61 L289.50,249.57 L289.80,249.53 L290.10,249.48 L290.40,249.44 L290.70,249.39 L291.00,249.34 L291.30,249.29 L291.60,249.24 L291.90,249.19 L292.20,249.14 L292.50,249.08 L292.80,249.02 L293.10,248.97 L293.40,248.91 L293.70,248.85 L294.00,248.79 L294.30,248.72 L294.60,248.66 L294.90,248.59 L295.20,248.52 L295.50,248.45 L295.80,248.38 L296.10,248.31 L296.40,248.23 L296.70,248.15 L297.00,248.07 L297.30,247.99 L297.60,247.90 L297.90,247.81 L298.20,247.72 L298.50,247.63 L298.80,247.53 L299.10,247.44 L299.40,247.33 L299.70,247.23 L300.00,247.12 L300.30,247.01 L300.60,246.89 L300.90,246.78 L301.20,246.65 L301.50,246.53 L301.80,246.40 L302.10,246.26 L302.40,246.12 L302.70,245.98 L303.00,245.83 L303.30,245.68 L303.60,245.52 L303.90,245.36 L304.20,245.18 L304.50,245.01 L304.80,244.83 L305.10,244.64 L305.40,244.44 L305.70,244.24 L306.00,244.03 L306.30,243.81 L306.60,243.58 L306.90,243.34 L307.20,243.10 L307.50,242.84 L307.80,242.57 L308.10,242.30 L308.40,242.01 L308.70,241.71 L309.00,241.40 L309.30,241.07 L309.60,240.73 L309.90,240.38 L310.20,240.01 L310.50,239.62 L310.80,239.21 L311.10,238.79 L311.40,238.35 L311.70,237.89 L312.00,237.40 L312.30,236.89 L312.60,236.36 L312.90,235.80 L313.20,235.22 L313.50,234.60 L313.80,233.96 L314.10,233.28 L314.40,232.57 L314.70,231.82 L315.00,231.03 L315.30,230.20 L315.60,229.32 L315.90,228.40 L316.20,227.43 L316.50,226.41 L316.80,225.33 L317.10,224.19 L317.40,222.98 L317.70,221.72 L318.00,220.38 L318.30,218.97 L318.60,217.48 L318.90,215.91 L319.20,214.25 L319.50,212.51 L319.80,210.68 L320.10,208.75 L320.40,206.72 L320.70,204.60 L321.00,202.38 L321.30,200.06 L321.60,197.64 L321.90,195.13 L322.20,192.54 L322.50,189.87 L322.80,187.14 L323.10,184.36 L323.40,181.54 L323.70,178.72 L324.00,175.92 L324.30,173.17 L324.60,170.51 L324.90,167.96 L325.20,165.59 L325.50,163.42 L325.80,161.50 L326.10,159.86 L326.40,158.55 L326.70,157.58 L327.00,157.00 L327.30,156.80 L327.60,157.00 L327.90,157.58 L328.20,158.55 L328.50,159.86 L328.80,161.50 L329.10,163.42 L329.40,165.59 L329.70,167.96 L330.00,170.51 L330.30,173.17 L330.60,175.92 L330.90,178.72 L331.20,181.54 L331.50,184.36 L331.80,187.14 L332.10,189.87 L332.40,192.54 L332.70,195.13 L333.00,197.64 L333.30,200.06 L333.60,202.38 L333.90,204.60 L334.20,206.72 L334.50,208.75 L334.80,210.68 L335.10,212.51 L335.40,214.25 L335.70,215.91 L336.00,217.48 L336.30,218.97 L336.60,220.38 L336.90,221.72 L337.20,222.98 L337.50,224.19 L337.80,225.33 L338.10,226.41 L338.40,227.43 L338.70,228.40 L339.00,229.32 L339.30,230.20 L339.60,231.03 L339.90,231.82 L340.20,232.57 L340.50,233.28 L340.80,233.96 L341.10,234.60 L341.40,235.22 L341.70,235.80 L342.00,236.36 L342.30,236.89 L342.60,237.40 L342.90,237.89 L343.20,238.35 L343.50,238.79 L343.80,239.21 L344.10,239.62 L344.40,240.01 L344.70,240.38 L345.00,240.73 L345.30,241.07 L345.60,241.40 L345.90,241.71 L346.20,242.01 L346.50,242.30 L346.80,242.57 L347.10,242.84 L347.40,243.10 L347.70,243.34 L348.00,243.58 L348.30,243.81 L348.60,244.03 L348.90,244.24 L349.20,244.44 L349.50,244.64 L349.80,244.83 L350.10,245.01 L350.40,245.18 L350.70,245.36 L351.00,245.52 L351.30,245.68 L351.60,245.83 L351.90,245.98 L352.20,246.12 L352.50,246.26 L352.80,246.40 L353.10,246.53 L353.40,246.65 L353.70,246.78 L354.00,246.89 L354.30,247.01 L354.60,247.12 L354.90,247.23 L355.20,247.33 L355.50,247.44 L355.80,247.53 L356.10,247.63 L356.40,247.72 L356.70,247.81 L357.00,247.90 L357.30,247.99 L357.60,248.07 L357.90,248.15 L358.20,248.23 L358.50,248.31 L358.80,248.38 L359.10,248.45 L359.40,248.52 L359.70,248.59 L360.00,248.66 L360.30,248.72 L360.60,248.79 L360.90,248.85 L361.20,248.91 L361.50,248.97 L361.80,249.02 L362.10,249.08 L362.40,249.14 L362.70,249.19 L363.00,249.24 L363.30,249.29 L363.60,249.34 L363.90,249.39 L364.20,249.44 L364.50,249.48 L364.80,249.53 L365.10,249.57 L365.40,249.61 L365.70,249.66 L366.00,249.70 L366.30,249.74 L366.60,249.78 L366.90,249.82 L367.20,249.85 L367.50,249.89 L367.80,249.93 L368.10,249.96 L368.40,250.00 L368.70,250.03 L369.00,250.06 L369.30,250.10 L369.60,250.13 L369.90,250.16 L370.20,250.19 L370.50,250.22 L370.80,250.25 L371.10,250.28 L371.40,250.31 L371.70,250.33 L372.00,250.36 L372.30,250.39 L372.60,250.41 L372.90,250.44 L373.20,250.46 L373.50,250.49 L373.80,250.51 L374.10,250.54 L374.40,250.56 L374.70,250.58 L375.00,250.60 L375.30,250.63 L375.60,250.65 L375.90,250.67 L376.20,250.69 L376.50,250.71 L376.80,250.73 L377.10,250.75 L377.40,250.77 L377.70,250.79 L378.00,250.81 L378.30,250.83 L378.60,250.84 L378.90,250.86 L379.20,250.88 L379.50,250.90 L379.80,250.91 L380.10,250.93 L380.40,250.95 L380.70,250.96 L381.00,250.98 L381.30,250.99 L381.60,251.01 L381.90,251.02 L382.20,251.04 L382.50,251.05 L382.80,251.07 L383.10,251.08 L383.40,251.09 L383.70,251.11 L384.00,251.12 L384.30,251.14 L384.60,251.15 L384.90,251.16 L385.20,251.17 L385.50,251.19 L385.80,251.20 L386.10,251.21 L386.40,251.22 L386.70,251.23 L387.00,251.25 L387.30,251.26 L387.60,251.27 L387.90,251.28 L388.20,251.29 L388.50,251.30 L388.80,251.31 L389.10,251.32 L389.40,251.33 L389.70,251.34 L390.00,251.35 L390.30,251.36 L390.60,251.37 L390.90,251.38 L391.20,251.39 L391.50,251.40 L391.80,251.41 L392.10,251.42 L392.40,251.43 L392.70,251.44" fill="none" stroke="#ff1010" stroke-width="1.6" stroke-linejoin="round" />
<rect x="242.2" y="28.4" width="151.5" height="231.6" fill="none" stroke="#141414" stroke-width="1.7"/>
<line x1="242.2" y1="143.9" x2="393.7" y2="143.9" stroke="#141414" stroke-width="1.7"/>
<circle cx="253.2" cy="34.4" r="3" fill="#fff" stroke="#666" stroke-width="0.8"/>
<text x="266.29" y="37.4" font-family="Liberation Sans" font-size="9.12" font-weight="bold" text-anchor="start" fill="#0c0c0c" stroke="#0c0c0c" stroke-width="0.32" >Experimental Data</text>
<line x1="242.8" y1="45.6" x2="263.9" y2="45.6" stroke="#ff3030" stroke-width="1.5"/>
<text x="268.66" y="48.8" font-family="Liberation Sans" font-size="9.1" font-weight="bold" text-anchor="start" fill="#0c0c0c" stroke="#0c0c0c" stroke-width="0.32" >hBN:Mg</text>
<line x1="242.8" y1="57.5" x2="263.9" y2="57.5" stroke="#20e020" stroke-width="1.5"/>
<text x="268.66" y="60.6" font-family="Liberation Sans" font-size="9.1" font-weight="bold" text-anchor="start" fill="#0c0c0c" stroke="#0c0c0c" stroke-width="0.32" >hBN</text>
<circle cx="252.4" cy="150.3" r="3" fill="#fff" stroke="#666" stroke-width="0.8"/>
<text x="265.19" y="153.4" font-family="Liberation Sans" font-size="9.1" font-weight="bold" text-anchor="start" fill="#0c0c0c" stroke="#0c0c0c" stroke-width="0.32" >Experimental Data</text>
<line x1="242.8" y1="161.7" x2="263.8" y2="161.7" stroke="#ff3030" stroke-width="1.5"/>
<text x="267.66" y="165.0" font-family="Liberation Sans" font-size="9.1" font-weight="bold" text-anchor="start" fill="#0c0c0c" stroke="#0c0c0c" stroke-width="0.32" >hBN</text>
<line x1="292.67" y1="260.0" x2="292.67" y2="257.2" stroke="#141414" stroke-width="1.3"/>
<line x1="343.14" y1="260.0" x2="343.14" y2="257.2" stroke="#141414" stroke-width="1.3"/>
<line x1="267.44" y1="260.0" x2="267.44" y2="258.2" stroke="#141414" stroke-width="1.3"/>
<line x1="317.90" y1="260.0" x2="317.90" y2="258.2" stroke="#141414" stroke-width="1.3"/>
<line x1="368.38" y1="260.0" x2="368.38" y2="258.2" stroke="#141414" stroke-width="1.3"/>
<line x1="292.67" y1="143.9" x2="292.67" y2="141.9" stroke="#141414" stroke-width="1.3"/>
<line x1="343.14" y1="143.9" x2="343.14" y2="141.9" stroke="#141414" stroke-width="1.3"/>
<text x="0" y="0" transform="translate(242.20,270.70) scale(0.97,1.08)" font-family="Liberation Sans" font-size="9.1" font-weight="bold" text-anchor="middle" fill="#0c0c0c" stroke="#0c0c0c" stroke-width="0.12">1200</text>
<text x="0" y="0" transform="translate(292.67,270.70) scale(0.97,1.08)" font-family="Liberation Sans" font-size="9.1" font-weight="bold" text-anchor="middle" fill="#0c0c0c" stroke="#0c0c0c" stroke-width="0.12">1300</text>
<text x="0" y="0" transform="translate(343.14,270.70) scale(0.97,1.08)" font-family="Liberation Sans" font-size="9.1" font-weight="bold" text-anchor="middle" fill="#0c0c0c" stroke="#0c0c0c" stroke-width="0.12">1400</text>
<text x="0" y="0" transform="translate(393.61,270.70) scale(0.97,1.08)" font-family="Liberation Sans" font-size="9.1" font-weight="bold" text-anchor="middle" fill="#0c0c0c" stroke="#0c0c0c" stroke-width="0.12">1500</text>
<text x="278.7" y="284.0" font-family="Liberation Sans" font-size="9.1" font-weight="bold" text-anchor="start" fill="#0c0c0c" stroke="#0c0c0c" stroke-width="0.32" >Raman shift (cm<tspan font-size="6" dy="-3.5">-1</tspan><tspan dy="3.5">)</tspan></text>
<text x="0" y="0" transform="translate(233.2,130.0) rotate(-90)" font-family="Liberation Sans" font-size="9.4" font-weight="bold" text-anchor="middle" fill="#0c0c0c" stroke="#0c0c0c" stroke-width="0.32">Intensity (a.u.)</text>
<text x="469.0" y="14.6" font-family="Liberation Serif" font-size="19.8" font-weight="normal" text-anchor="start" fill="#000" stroke="#000" stroke-width="0.6" >(c)</text>
<clipPath id="cc"><rect x="477.6" y="25.1" width="198.10000000000002" height="159.70000000000002"/></clipPath>
<g fill="none" stroke="#3c3c3c" stroke-width="0.9" clip-path="url(#cc)">
<circle cx="479.20" cy="171.70" r="4.1"/>
<circle cx="485.50" cy="172.60" r="4.1"/>
<circle cx="491.90" cy="171.70" r="4.1"/>
<circle cx="497.00" cy="171.50" r="4.1"/>
<circle cx="501.40" cy="171.00" r="4.1"/>
<circle cx="507.70" cy="170.40" r="4.1"/>
<circle cx="511.50" cy="168.80" r="4.1"/>
<circle cx="515.70" cy="166.30" r="4.1"/>
<circle cx="519.50" cy="166.50" r="4.1"/>
<circle cx="523.60" cy="164.70" r="4.1"/>
<circle cx="526.80" cy="160.90" r="4.1"/>
<circle cx="529.50" cy="160.00" r="4.1"/>
<circle cx="533.10" cy="153.60" r="4.1"/>
<circle cx="537.00" cy="148.00" r="4.1"/>
<circle cx="541.10" cy="139.90" r="4.1"/>
<circle cx="546.50" cy="129.80" r="4.1"/>
<circle cx="550.60" cy="120.20" r="4.1"/>
<circle cx="554.70" cy="104.40" r="4.1"/>
<circle cx="560.10" cy="83.70" r="4.1"/>
<circle cx="565.50" cy="69.40" r="4.1"/>
<circle cx="569.70" cy="57.70" r="4.1"/>
<circle cx="574.40" cy="47.90" r="4.1"/>
<circle cx="580.80" cy="40.20" r="4.1"/>
<circle cx="590.30" cy="40.20" r="4.1"/>
<circle cx="596.00" cy="45.60" r="4.1"/>
<circle cx="599.20" cy="51.00" r="4.1"/>
<circle cx="601.50" cy="58.50" r="4.1"/>
<circle cx="603.90" cy="67.90" r="4.1"/>
<circle cx="610.30" cy="82.80" r="4.1"/>
<circle cx="615.00" cy="100.60" r="4.1"/>
<circle cx="620.40" cy="118.70" r="4.1"/>
<circle cx="624.60" cy="130.40" r="4.1"/>
<circle cx="630.00" cy="140.90" r="4.1"/>
<circle cx="634.10" cy="152.60" r="4.1"/>
<circle cx="637.90" cy="158.30" r="4.1"/>
<circle cx="644.30" cy="169.40" r="4.1"/>
<circle cx="650.00" cy="172.60" r="4.1"/>
<circle cx="655.40" cy="174.20" r="4.1"/>
<circle cx="661.70" cy="174.80" r="4.1"/>
<circle cx="668.00" cy="175.50" r="4.1"/>
<circle cx="674.40" cy="176.70" r="4.1"/>
</g>
<path d="M478.20,172.30 L479.70,172.30 L481.20,172.30 L482.70,172.29 L484.20,172.29 L485.70,172.29 L487.20,172.28 L488.70,172.28 L490.20,172.27 L491.70,172.26 L493.20,172.25 L494.70,172.23 L496.20,172.21 L497.70,172.18 L499.20,172.14 L500.70,172.09 L502.20,172.03 L503.70,171.96 L505.20,171.86 L506.70,171.74 L508.20,171.60 L509.70,171.42 L511.20,171.20 L512.70,170.93 L514.20,170.61 L515.70,170.23 L517.20,169.77 L518.70,169.23 L520.20,168.59 L521.70,167.85 L523.20,166.98 L524.70,165.98 L526.20,164.84 L527.70,163.53 L529.20,162.06 L530.70,160.39 L532.20,158.53 L533.70,156.45 L535.20,154.16 L536.70,151.63 L538.20,148.88 L539.70,145.89 L541.20,142.66 L542.70,139.20 L544.20,135.51 L545.70,131.60 L547.20,127.49 L548.70,123.19 L550.20,118.72 L551.70,114.11 L553.20,109.39 L554.70,104.57 L556.20,99.71 L557.70,94.82 L559.20,89.95 L560.70,85.14 L562.20,80.41 L563.70,75.81 L565.20,71.37 L566.70,67.13 L568.20,63.12 L569.70,59.36 L571.20,55.89 L572.70,52.72 L574.20,49.87 L575.70,47.36 L577.20,45.19 L578.70,43.37 L580.20,41.89 L581.70,40.74 L583.20,39.91 L584.70,39.39 L586.20,39.13 L587.70,39.09 L589.20,39.25 L590.70,39.86 L592.20,40.97 L593.70,42.57 L595.20,44.64 L596.70,47.17 L598.20,50.11 L599.70,53.45 L601.20,57.15 L602.70,61.17 L604.20,65.47 L605.70,70.01 L607.20,74.75 L608.70,79.64 L610.20,84.65 L611.70,89.72 L613.20,94.82 L614.70,99.91 L616.20,104.96 L617.70,109.93 L619.20,114.79 L620.70,119.51 L622.20,124.08 L623.70,128.46 L625.20,132.65 L626.70,136.63 L628.20,140.39 L629.70,143.93 L631.20,147.23 L632.70,150.31 L634.20,153.16 L635.70,155.79 L637.20,158.20 L638.70,160.40 L640.20,162.40 L641.70,164.20 L643.20,165.83 L644.70,167.29 L646.20,168.59 L647.70,169.75 L649.20,170.77 L650.70,171.68 L652.20,172.47 L653.70,173.16 L655.20,173.75 L656.70,174.27 L658.20,174.72 L659.70,175.11 L661.20,175.43 L662.70,175.71 L664.20,175.95 L665.70,176.15 L667.20,176.32 L668.70,176.46 L670.20,176.58 L671.70,176.67 L673.20,176.75 L674.70,176.82" fill="none" stroke="#1c1cff" stroke-width="1.7" stroke-linejoin="round" />
<rect x="477.6" y="25.1" width="198.10000000000002" height="159.70000000000002" fill="none" stroke="#141414" stroke-width="1.7"/>
<circle cx="487.4" cy="31.2" r="3.8" fill="#fff" stroke="#666" stroke-width="0.8"/>
<text x="500.5" y="34.1" font-family="Liberation Sans" font-size="8.99" font-weight="bold" text-anchor="start" fill="#0c0c0c" stroke="#0c0c0c" stroke-width="0.32" >Experimental Data</text>
<line x1="478.2" y1="42.5" x2="498.3" y2="42.5" stroke="#3030ff" stroke-width="1.5"/>
<text x="500.4" y="45.7" font-family="Liberation Sans" font-size="9.0" font-weight="bold" text-anchor="start" fill="#0c0c0c" stroke="#0c0c0c" stroke-width="0.32" >Fitting</text>
<text x="647.38" y="38.9" font-family="Liberation Sans" font-size="9.21" font-weight="bold" text-anchor="start" fill="#0c0c0c" stroke="#0c0c0c" stroke-width="0.32" >B1s</text>
<line x1="527.20" y1="184.8" x2="527.20" y2="182.0" stroke="#141414" stroke-width="1.3"/>
<line x1="576.80" y1="184.8" x2="576.80" y2="182.0" stroke="#141414" stroke-width="1.3"/>
<line x1="626.40" y1="184.8" x2="626.40" y2="182.0" stroke="#141414" stroke-width="1.3"/>
<line x1="502.40" y1="184.8" x2="502.40" y2="183.0" stroke="#141414" stroke-width="1.3"/>
<line x1="552.00" y1="184.8" x2="552.00" y2="183.0" stroke="#141414" stroke-width="1.3"/>
<line x1="601.60" y1="184.8" x2="601.60" y2="183.0" stroke="#141414" stroke-width="1.3"/>
<line x1="651.20" y1="184.8" x2="651.20" y2="183.0" stroke="#141414" stroke-width="1.3"/>
<text x="0" y="0" transform="translate(477.60,196.10) scale(0.97,1.08)" font-family="Liberation Sans" font-size="9.1" font-weight="bold" text-anchor="middle" fill="#0c0c0c" stroke="#0c0c0c" stroke-width="0.12">188</text>
<text x="0" y="0" transform="translate(527.20,196.10) scale(0.97,1.08)" font-family="Liberation Sans" font-size="9.1" font-weight="bold" text-anchor="middle" fill="#0c0c0c" stroke="#0c0c0c" stroke-width="0.12">189</text>
<text x="0" y="0" transform="translate(576.80,196.10) scale(0.97,1.08)" font-family="Liberation Sans" font-size="9.1" font-weight="bold" text-anchor="middle" fill="#0c0c0c" stroke="#0c0c0c" stroke-width="0.12">190</text>
<text x="0" y="0" transform="translate(626.40,196.10) scale(0.97,1.08)" font-family="Liberation Sans" font-size="9.1" font-weight="bold" text-anchor="middle" fill="#0c0c0c" stroke="#0c0c0c" stroke-width="0.12">191</text>
<text x="0" y="0" transform="translate(676.00,196.10) scale(0.97,1.08)" font-family="Liberation Sans" font-size="9.1" font-weight="bold" text-anchor="middle" fill="#0c0c0c" stroke="#0c0c0c" stroke-width="0.12">192</text>
<text x="544.29" y="208.4" font-family="Liberation Sans" font-size="9.11" font-weight="bold" text-anchor="start" fill="#0c0c0c" stroke="#0c0c0c" stroke-width="0.32" >Binding energy (eV)</text>
<text x="0" y="0" transform="translate(467.9,97.6) rotate(-90)" font-family="Liberation Sans" font-size="9.2" font-weight="bold" text-anchor="middle" fill="#0c0c0c" stroke="#0c0c0c" stroke-width="0.32">Intensity (a.u.)</text>
<text x="17.2" y="304.4" font-family="Liberation Serif" font-size="19.8" font-weight="normal" text-anchor="start" fill="#000" stroke="#000" stroke-width="0.6" >(d)</text>
<clipPath id="cd"><rect x="19.2" y="315.4" width="199.0" height="160.0"/></clipPath>
<g fill="none" stroke="#3c3c3c" stroke-width="0.9" clip-path="url(#cd)">
<circle cx="22.20" cy="459.40" r="4.1"/>
<circle cx="26.90" cy="460.40" r="4.1"/>
<circle cx="31.70" cy="458.50" r="4.1"/>
<circle cx="36.50" cy="459.40" r="4.1"/>
<circle cx="41.20" cy="461.00" r="4.1"/>
<circle cx="47.60" cy="460.40" r="4.1"/>
<circle cx="53.90" cy="459.40" r="4.1"/>
<circle cx="58.70" cy="459.40" r="4.1"/>
<circle cx="63.40" cy="458.50" r="4.1"/>
<circle cx="68.20" cy="456.30" r="4.1"/>
<circle cx="73.00" cy="454.70" r="4.1"/>
<circle cx="77.70" cy="452.10" r="4.1"/>
<circle cx="81.30" cy="451.40" r="4.1"/>
<circle cx="85.20" cy="447.50" r="4.1"/>
<circle cx="89.00" cy="438.40" r="4.1"/>
<circle cx="94.20" cy="433.30" r="4.1"/>
<circle cx="98.10" cy="421.70" r="4.1"/>
<circle cx="101.90" cy="412.60" r="4.1"/>
<circle cx="104.50" cy="397.60" r="4.1"/>
<circle cx="109.70" cy="382.90" r="4.1"/>
<circle cx="113.60" cy="366.10" r="4.1"/>
<circle cx="117.40" cy="355.80" r="4.1"/>
<circle cx="121.30" cy="341.60" r="4.1"/>
<circle cx="125.20" cy="335.20" r="4.1"/>
<circle cx="130.20" cy="331.50" r="4.1"/>
<circle cx="136.00" cy="333.90" r="4.1"/>
<circle cx="138.60" cy="339.80" r="4.1"/>
<circle cx="142.30" cy="348.30" r="4.1"/>
<circle cx="145.20" cy="357.70" r="4.1"/>
<circle cx="149.50" cy="372.50" r="4.1"/>
<circle cx="153.50" cy="387.40" r="4.1"/>
<circle cx="157.40" cy="405.50" r="4.1"/>
<circle cx="161.00" cy="416.50" r="4.1"/>
<circle cx="165.00" cy="426.80" r="4.1"/>
<circle cx="170.00" cy="433.90" r="4.1"/>
<circle cx="176.60" cy="442.90" r="4.1"/>
<circle cx="181.40" cy="450.90" r="4.1"/>
<circle cx="187.30" cy="453.20" r="4.1"/>
<circle cx="193.60" cy="455.40" r="4.1"/>
<circle cx="199.80" cy="455.70" r="4.1"/>
<circle cx="206.10" cy="455.40" r="4.1"/>
<circle cx="212.30" cy="457.20" r="4.1"/>
<circle cx="215.90" cy="458.10" r="4.1"/>
</g>
<path d="M19.80,460.29 L21.30,460.27 L22.80,460.25 L24.30,460.23 L25.80,460.21 L27.30,460.19 L28.80,460.16 L30.30,460.14 L31.80,460.11 L33.30,460.09 L34.80,460.06 L36.30,460.03 L37.80,460.00 L39.30,459.97 L40.80,459.93 L42.30,459.90 L43.80,459.86 L45.30,459.81 L46.80,459.77 L48.30,459.71 L49.80,459.66 L51.30,459.59 L52.80,459.52 L54.30,459.44 L55.80,459.35 L57.30,459.24 L58.80,459.12 L60.30,458.98 L61.80,458.82 L63.30,458.62 L64.80,458.40 L66.30,458.13 L67.80,457.82 L69.30,457.45 L70.80,457.02 L72.30,456.52 L73.80,455.93 L75.30,455.24 L76.80,454.44 L78.30,453.52 L79.80,452.46 L81.30,451.24 L82.80,449.85 L84.30,448.27 L85.80,446.49 L87.30,444.48 L88.80,442.23 L90.30,439.73 L91.80,436.97 L93.30,433.94 L94.80,430.62 L96.30,427.02 L97.80,423.14 L99.30,418.98 L100.80,414.55 L102.30,409.87 L103.80,404.97 L105.30,399.85 L106.80,394.57 L108.30,389.16 L109.80,383.66 L111.30,378.13 L112.80,372.62 L114.30,367.19 L115.80,361.90 L117.30,356.82 L118.80,352.01 L120.30,347.56 L121.80,343.51 L123.30,339.94 L124.80,336.91 L126.30,334.48 L127.80,332.67 L129.30,331.54 L130.80,331.09 L132.30,331.34 L133.80,332.28 L135.30,333.89 L136.80,336.13 L138.30,338.96 L139.80,342.33 L141.30,346.18 L142.80,350.44 L144.30,355.05 L145.80,359.93 L147.30,365.03 L148.80,370.27 L150.30,375.60 L151.80,380.95 L153.30,386.27 L154.80,391.52 L156.30,396.64 L157.80,401.60 L159.30,406.36 L160.80,410.90 L162.30,415.19 L163.80,419.23 L165.30,423.00 L166.80,426.49 L168.30,429.71 L169.80,432.66 L171.30,435.34 L172.80,437.76 L174.30,439.94 L175.80,441.89 L177.30,443.62 L178.80,445.15 L180.30,446.50 L181.80,447.68 L183.30,448.71 L184.80,449.60 L186.30,450.38 L187.80,451.04 L189.30,451.61 L190.80,452.10 L192.30,452.52 L193.80,452.87 L195.30,453.18 L196.80,453.44 L198.30,453.66 L199.80,453.84 L201.30,454.00 L202.80,454.14 L204.30,454.26 L205.80,454.36 L207.30,454.45 L208.80,454.53 L210.30,454.60 L211.80,454.67 L213.30,454.72 L214.80,454.77 L216.30,454.82" fill="none" stroke="#1c1cff" stroke-width="1.7" stroke-linejoin="round" />
<rect x="19.2" y="315.4" width="199.0" height="160.0" fill="none" stroke="#141414" stroke-width="1.7"/>
<circle cx="30.4" cy="321.7" r="3.9" fill="#fff" stroke="#666" stroke-width="0.8"/>
<text x="43.4" y="324.8" font-family="Liberation Sans" font-size="9.0" font-weight="bold" text-anchor="start" fill="#0c0c0c" stroke="#0c0c0c" stroke-width="0.32" >Experimental Data</text>
<line x1="19.8" y1="332.9" x2="41.0" y2="332.9" stroke="#3030ff" stroke-width="1.5"/>
<text x="43.4" y="336.1" font-family="Liberation Sans" font-size="9.0" font-weight="bold" text-anchor="start" fill="#0c0c0c" stroke="#0c0c0c" stroke-width="0.32" >Fitting</text>
<text x="189.36" y="328.2" font-family="Liberation Sans" font-size="9.5" font-weight="bold" text-anchor="start" fill="#0c0c0c" stroke="#0c0c0c" stroke-width="0.32" >N1s</text>
<line x1="59.00" y1="475.4" x2="59.00" y2="472.59999999999997" stroke="#141414" stroke-width="1.3"/>
<line x1="98.80" y1="475.4" x2="98.80" y2="472.59999999999997" stroke="#141414" stroke-width="1.3"/>
<line x1="138.60" y1="475.4" x2="138.60" y2="472.59999999999997" stroke="#141414" stroke-width="1.3"/>
<line x1="178.40" y1="475.4" x2="178.40" y2="472.59999999999997" stroke="#141414" stroke-width="1.3"/>
<line x1="39.10" y1="475.4" x2="39.10" y2="473.59999999999997" stroke="#141414" stroke-width="1.3"/>
<line x1="78.90" y1="475.4" x2="78.90" y2="473.59999999999997" stroke="#141414" stroke-width="1.3"/>
<line x1="118.70" y1="475.4" x2="118.70" y2="473.59999999999997" stroke="#141414" stroke-width="1.3"/>
<line x1="158.50" y1="475.4" x2="158.50" y2="473.59999999999997" stroke="#141414" stroke-width="1.3"/>
<line x1="198.30" y1="475.4" x2="198.30" y2="473.59999999999997" stroke="#141414" stroke-width="1.3"/>
<text x="0" y="0" transform="translate(19.20,486.10) scale(0.97,1.08)" font-family="Liberation Sans" font-size="9.1" font-weight="bold" text-anchor="middle" fill="#0c0c0c" stroke="#0c0c0c" stroke-width="0.12">395</text>
<text x="0" y="0" transform="translate(59.00,486.10) scale(0.97,1.08)" font-family="Liberation Sans" font-size="9.1" font-weight="bold" text-anchor="middle" fill="#0c0c0c" stroke="#0c0c0c" stroke-width="0.12">396</text>
<text x="0" y="0" transform="translate(98.80,486.10) scale(0.97,1.08)" font-family="Liberation Sans" font-size="9.1" font-weight="bold" text-anchor="middle" fill="#0c0c0c" stroke="#0c0c0c" stroke-width="0.12">397</text>
<text x="0" y="0" transform="translate(138.60,486.10) scale(0.97,1.08)" font-family="Liberation Sans" font-size="9.1" font-weight="bold" text-anchor="middle" fill="#0c0c0c" stroke="#0c0c0c" stroke-width="0.12">398</text>
<text x="0" y="0" transform="translate(178.40,486.10) scale(0.97,1.08)" font-family="Liberation Sans" font-size="9.1" font-weight="bold" text-anchor="middle" fill="#0c0c0c" stroke="#0c0c0c" stroke-width="0.12">399</text>
<text x="0" y="0" transform="translate(218.20,486.10) scale(0.97,1.08)" font-family="Liberation Sans" font-size="9.1" font-weight="bold" text-anchor="middle" fill="#0c0c0c" stroke="#0c0c0c" stroke-width="0.12">400</text>
<text x="93.19" y="498.1" font-family="Liberation Sans" font-size="9.09" font-weight="bold" text-anchor="start" fill="#0c0c0c" stroke="#0c0c0c" stroke-width="0.32" >Binding energy (eV)</text>
<text x="0" y="0" transform="translate(8.2,389.4) rotate(-90)" font-family="Liberation Sans" font-size="9.3" font-weight="bold" text-anchor="middle" fill="#0c0c0c" stroke="#0c0c0c" stroke-width="0.32">Intensity&#160;&#160;(a.u.)</text>
<text x="251.8" y="304.4" font-family="Liberation Serif" font-size="19.8" font-weight="normal" text-anchor="start" fill="#000" stroke="#000" stroke-width="0.6" >(e)</text>
<rect x="250.2" y="315.3" width="199.10000000000002" height="159.7" fill="none" stroke="#141414" stroke-width="1.7"/>
<path d="M250.80,469.60 L424.00,469.60 L426.00,468.80 L428.50,467.80 L431.70,465.70 L433.50,462.60 L434.60,460.00 L436.00,454.00 L437.40,444.80 L438.80,437.50 L440.30,431.40 L441.70,421.00 L443.10,408.60 L444.10,399.50 L445.00,391.40 L446.00,380.00 L446.90,366.00 L447.60,352.00 L448.30,330.00 L448.70,316.00" fill="none" stroke="#0a0a0a" stroke-width="1.3" stroke-linejoin="round" />
<path d="M250.80,469.50 L400.00,469.50 L405.00,469.10" fill="none" stroke="#ff2020" stroke-width="1.7" stroke-linejoin="round" />
<path d="M405.00,469.10 L410.00,467.20 L414.80,463.30 L418.50,458.50 L422.70,454.40 L425.50,452.90 L428.40,452.30 L431.50,449.80 L434.50,445.70 L437.40,439.50 L438.40,427.60 L439.30,399.00 L440.30,380.00 L440.70,359.70 L441.60,345.00 L442.60,335.50 L443.90,328.70 L445.20,334.00 L446.20,344.00 L447.00,351.70 L447.80,367.60 L448.60,383.50 L449.00,392.00" fill="none" stroke="#ff2020" stroke-width="1.3" stroke-linejoin="round" />
<line x1="258" y1="469.4" x2="263" y2="469.4" stroke="#600" stroke-width="1.0" opacity="0.55"/>
<line x1="268" y1="469.4" x2="278" y2="469.4" stroke="#600" stroke-width="1.0" opacity="0.55"/>
<line x1="286" y1="469.4" x2="305" y2="469.4" stroke="#600" stroke-width="1.0" opacity="0.55"/>
<line x1="330" y1="469.4" x2="340" y2="469.4" stroke="#600" stroke-width="1.0" opacity="0.55"/>
<line x1="352" y1="469.4" x2="362" y2="469.4" stroke="#600" stroke-width="1.0" opacity="0.55"/>
<line x1="367" y1="469.4" x2="380" y2="469.4" stroke="#600" stroke-width="1.0" opacity="0.55"/>
<line x1="436.6" y1="463" x2="446.5" y2="385" stroke="#00c800" stroke-width="1.3"/>
<path d="M434.9,461.5 L438.6,462.0 L436.3,466.8 Z" fill="#10a010"/>
<line x1="385" y1="470.4" x2="443.5" y2="470.4" stroke="#111" stroke-width="1.5" stroke-dasharray="3,1.8"/>
<line x1="397.7" y1="432.9" x2="416.5" y2="448.9" stroke="#000" stroke-width="1.6"/>
<path d="M423.6,454.2 L411.0,448.9 L415.8,443.1 Z" fill="#000"/>
<line x1="261.8" y1="331.8" x2="283.2" y2="331.8" stroke="#222" stroke-width="1.3"/>
<text x="287.76" y="334.7" font-family="Liberation Sans" font-size="9.2" font-weight="bold" text-anchor="start" fill="#0c0c0c" stroke="#0c0c0c" stroke-width="0.32" >hBN</text>
<line x1="261.8" y1="343.3" x2="283.2" y2="343.3" stroke="#ff4040" stroke-width="1.3"/>
<text x="287.76" y="346.3" font-family="Liberation Sans" font-size="9.2" font-weight="bold" text-anchor="start" fill="#0c0c0c" stroke="#0c0c0c" stroke-width="0.32" >hBN:Mg</text>
<text x="295.5" y="399.7" font-family="Liberation Sans" font-size="9.1" font-weight="bold" text-anchor="start" fill="#0c0c0c" stroke="#0c0c0c" stroke-width="0.32" >E</text>
<text x="302.0" y="401.2" font-family="Liberation Sans" font-size="7.2" font-weight="bold" text-anchor="start" fill="#0c0c0c" stroke="#0c0c0c" stroke-width="0.32" >g</text>
<text x="310.42" y="399.7" font-family="Liberation Sans" font-size="9.18" font-weight="bold" text-anchor="start" fill="#0c0c0c" stroke="#0c0c0c" stroke-width="0.32" >= 6.01 eV</text>
<text x="373.59" y="430.5" font-family="Liberation Sans" font-size="9.05" font-weight="bold" text-anchor="start" fill="#0c0c0c" stroke="#0c0c0c" stroke-width="0.32" >Mg-Impurity</text>
<line x1="286.95" y1="475.0" x2="286.95" y2="472.2" stroke="#141414" stroke-width="1.3"/>
<line x1="323.70" y1="475.0" x2="323.70" y2="472.2" stroke="#141414" stroke-width="1.3"/>
<line x1="360.45" y1="475.0" x2="360.45" y2="472.2" stroke="#141414" stroke-width="1.3"/>
<line x1="397.20" y1="475.0" x2="397.20" y2="472.2" stroke="#141414" stroke-width="1.3"/>
<line x1="433.95" y1="475.0" x2="433.95" y2="472.2" stroke="#141414" stroke-width="1.3"/>
<text x="0" y="0" transform="translate(253.20,486.10) scale(0.97,1.08)" font-family="Liberation Sans" font-size="9.1" font-weight="bold" text-anchor="middle" fill="#0c0c0c" stroke="#0c0c0c" stroke-width="0.12">3.5</text>
<text x="0" y="0" transform="translate(289.95,486.10) scale(0.97,1.08)" font-family="Liberation Sans" font-size="9.1" font-weight="bold" text-anchor="middle" fill="#0c0c0c" stroke="#0c0c0c" stroke-width="0.12">4.0</text>
<text x="0" y="0" transform="translate(326.70,486.10) scale(0.97,1.08)" font-family="Liberation Sans" font-size="9.1" font-weight="bold" text-anchor="middle" fill="#0c0c0c" stroke="#0c0c0c" stroke-width="0.12">4.5</text>
<text x="0" y="0" transform="translate(363.45,486.10) scale(0.97,1.08)" font-family="Liberation Sans" font-size="9.1" font-weight="bold" text-anchor="middle" fill="#0c0c0c" stroke="#0c0c0c" stroke-width="0.12">5.0</text>
<text x="0" y="0" transform="translate(400.20,486.10) scale(0.97,1.08)" font-family="Liberation Sans" font-size="9.1" font-weight="bold" text-anchor="middle" fill="#0c0c0c" stroke="#0c0c0c" stroke-width="0.12">5.5</text>
<text x="0" y="0" transform="translate(436.95,486.10) scale(0.97,1.08)" font-family="Liberation Sans" font-size="9.1" font-weight="bold" text-anchor="middle" fill="#0c0c0c" stroke="#0c0c0c" stroke-width="0.12">6.0</text>
<text x="326.98" y="498.0" font-family="Liberation Sans" font-size="9.23" font-weight="bold" text-anchor="start" fill="#0c0c0c" stroke="#0c0c0c" stroke-width="0.32" >Energy (eV)</text>
<text x="0" y="0" transform="translate(240.2,391.6) rotate(-90)" font-family="Liberation Sans" font-size="8.85" font-weight="bold" text-anchor="middle" fill="#0c0c0c" stroke="#0c0c0c" stroke-width="0.32">(αhν)<tspan font-size="6" dy="-3">2</tspan><tspan dy="3"> (eVcm</tspan><tspan font-size="6" dy="-3">-1</tspan><tspan dy="3">)</tspan><tspan font-size="6" dy="-3">2</tspan></text>
<text x="485.4" y="304.4" font-family="Liberation Serif" font-size="19.8" font-weight="normal" text-anchor="start" fill="#000" stroke="#000" stroke-width="0.6" >(f)</text>
<rect x="481.3" y="315.5" width="198.3" height="160.2" fill="none" stroke="#141414" stroke-width="1.7"/>
<path d="M488.70,315.66 L489.20,316.63 L489.70,317.81 L490.20,318.99 L490.70,320.23 L491.20,321.20 L491.70,322.55 L492.20,323.79 L492.70,325.25 L493.20,326.18 L493.70,327.83 L494.20,329.61 L494.70,332.14 L495.20,334.19 L495.70,336.14 L496.20,337.70 L496.70,338.95 L497.20,340.24 L497.70,341.87 L498.20,344.46 L498.70,346.89 L499.20,349.08 L499.70,351.57 L500.20,354.14 L500.70,356.83 L501.20,359.32 L501.70,361.73 L502.20,364.26 L502.70,367.05 L503.20,369.49 L503.70,372.28 L504.20,374.70 L504.70,377.63 L505.20,380.11 L505.70,381.92 L506.20,383.81 L506.70,385.67 L507.20,388.00 L507.70,390.28 L508.20,392.38 L508.70,393.92 L509.20,395.41 L509.70,397.06 L510.20,398.87 L510.70,399.94 L511.20,400.59 L511.70,401.17 L512.20,402.04 L512.70,403.03 L513.20,403.80 L513.70,404.35 L514.20,404.79 L514.70,405.29 L515.20,406.08 L515.70,406.67 L516.20,407.17 L516.70,407.45 L517.20,408.14 L517.70,409.07 L518.20,409.83 L518.70,410.39 L519.20,411.03 L519.70,411.57 L520.20,412.21 L520.70,412.97 L521.20,413.70 L521.70,414.48 L522.20,415.12 L522.70,415.84 L523.20,416.38 L523.70,417.07 L524.20,417.65 L524.70,418.19 L525.20,418.58 L525.70,419.11 L526.20,419.61 L526.70,420.09 L527.20,420.57 L527.70,421.00 L528.20,421.53 L528.70,422.07 L529.20,422.81 L529.70,423.19 L530.20,423.66 L530.70,424.14 L531.20,424.77 L531.70,425.11 L532.20,425.62 L532.70,425.88 L533.20,426.42 L533.70,426.93 L534.20,427.38 L534.70,427.67 L535.20,427.97 L535.70,428.34 L536.20,428.70 L536.70,428.92 L537.20,429.42 L537.70,429.52 L538.20,429.74 L538.70,429.86 L539.20,430.36 L539.70,430.72 L540.20,431.11 L540.70,431.64 L541.20,432.01 L541.70,432.49 L542.20,432.87 L542.70,433.25 L543.20,433.61 L543.70,434.10 L544.20,434.57 L544.70,434.82 L545.20,434.96 L545.70,435.16 L546.20,435.61 L546.70,436.06 L547.20,436.42 L547.70,436.70 L548.20,437.07 L548.70,437.40 L549.20,437.70 L549.70,437.70 L550.20,437.92 L550.70,438.09 L551.20,438.72 L551.70,439.03 L552.20,439.28 L552.70,439.22 L553.20,439.50 L553.70,439.89 L554.20,440.21 L554.70,440.70 L555.20,440.89 L555.70,441.27 L556.20,441.30 L556.70,441.58 L557.20,441.48 L557.70,441.67 L558.20,441.83 L558.70,442.20 L559.20,442.26 L559.70,442.68 L560.20,442.97 L560.70,443.48 L561.20,443.65 L561.70,443.98 L562.20,444.38 L562.70,444.57 L563.20,444.80 L563.70,445.09 L564.20,445.56 L564.70,445.92 L565.20,446.11 L565.70,446.29 L566.20,446.62 L566.70,447.12 L567.20,447.39 L567.70,447.87 L568.20,448.12 L568.70,448.49 L569.20,448.71 L569.70,448.78 L570.20,448.98 L570.70,449.09 L571.20,449.56 L571.70,450.07 L572.20,450.51 L572.70,450.92 L573.20,451.05 L573.70,451.52 L574.20,451.69 L574.70,452.21 L575.20,452.37 L575.70,452.55 L576.20,452.62 L576.70,452.70 L577.20,452.98 L577.70,453.36 L578.20,453.70 L578.70,453.73 L579.20,453.72 L579.70,453.70 L580.20,454.02 L580.70,454.02 L581.20,454.43 L581.70,454.47 L582.20,454.76 L582.70,454.81 L583.20,455.14 L583.70,455.42 L584.20,455.65 L584.70,455.70 L585.20,455.95 L585.70,456.09 L586.20,456.16 L586.70,456.29 L587.20,456.26 L587.70,456.39 L588.20,456.21 L588.70,456.26 L589.20,456.44 L589.70,456.50 L590.20,456.71 L590.70,456.76 L591.20,457.05 L591.70,456.82 L592.20,456.87 L592.70,457.01 L593.20,457.29 L593.70,457.41 L594.20,457.16 L594.70,457.43 L595.20,457.44 L595.70,457.92 L596.20,457.73 L596.70,457.99 L597.20,457.96 L597.70,458.37 L598.20,458.28 L598.70,458.34 L599.20,458.61 L599.70,458.72 L600.20,458.81 L600.70,458.62 L601.20,458.70 L601.70,459.02 L602.20,459.35 L602.70,459.49 L603.20,459.25 L603.70,459.29 L604.20,459.60 L604.70,460.00 L605.20,460.10 L605.70,459.97 L606.20,459.95 L606.70,459.75 L607.20,459.78 L607.70,460.00 L608.20,460.18 L608.70,460.70 L609.20,460.69 L609.70,460.79 L610.20,460.71 L610.70,461.00 L611.20,461.23 L611.70,461.08 L612.20,461.01 L612.70,461.21 L613.20,461.39 L613.70,461.36 L614.20,461.43 L614.70,461.61 L615.20,461.67 L615.70,461.62 L616.20,461.62 L616.70,461.96 L617.20,462.22 L617.70,462.65 L618.20,462.90 L618.70,462.91 L619.20,463.03 L619.70,463.29 L620.20,463.83 L620.70,464.20 L621.20,464.33 L621.70,464.47 L622.20,464.75 L622.70,465.03 L623.20,465.27 L623.70,465.66 L624.20,466.08 L624.70,466.67 L625.20,466.77 L625.70,467.07 L626.20,467.35 L626.70,467.80 L627.20,468.16 L627.70,468.19 L628.20,468.48 L628.70,468.46 L629.20,468.76 L629.70,468.92 L630.20,469.06 L630.70,469.02 L631.20,469.17 L631.70,469.09 L632.20,469.32 L632.70,469.14 L633.20,469.42 L633.70,469.35 L634.20,469.46 L634.70,469.22 L635.20,469.42 L635.70,469.23 L636.20,469.29 L636.70,469.39 L637.20,469.53 L637.70,469.60 L638.20,469.66 L638.70,469.68 L639.20,469.59 L639.70,469.42 L640.20,469.26 L640.70,469.49 L641.20,469.56 L641.70,469.64 L642.20,469.44 L642.70,469.33 L643.20,469.41 L643.70,469.38 L644.20,469.44 L644.70,469.21 L645.20,469.28 L645.70,469.18 L646.20,469.39 L646.70,469.49 L647.20,469.40 L647.70,469.52 L648.20,469.47 L648.70,469.55 L649.20,469.33 L649.70,469.22 L650.20,469.34 L650.70,469.37 L651.20,469.50 L651.70,469.57 L652.20,469.79 L652.70,469.95 L653.20,469.77 L653.70,469.51 L654.20,469.43 L654.70,469.49 L655.20,469.73 L655.70,469.60 L656.20,469.69 L656.70,469.64 L657.20,469.71 L657.70,469.61 L658.20,469.54 L658.70,469.47 L659.20,469.42 L659.70,469.48 L660.20,469.39 L660.70,469.59 L661.20,469.48 L661.70,469.67 L662.20,469.48 L662.70,469.48 L663.20,469.63 L663.70,469.62 L664.20,469.52 L664.70,469.22 L665.20,469.24 L665.70,469.66 L666.20,469.79 L666.70,469.95 L667.20,469.60 L667.70,469.64 L668.20,469.63 L668.70,469.98 L669.20,469.88 L669.70,469.89 L670.20,469.72 L670.70,469.67 L671.20,469.59 L671.70,469.51 L672.20,469.35 L672.70,469.41 L673.20,469.49 L673.70,469.70 L674.20,469.46 L674.70,469.56 L675.20,469.63 L675.70,469.90 L676.20,469.88 L676.70,469.77 L677.20,469.74 L677.70,469.53 L678.20,469.58 L678.70,469.46" fill="none" stroke="#0a0a0a" stroke-width="1.4" stroke-linejoin="round" />
<line x1="497.4" y1="340.5" x2="522.0" y2="463.0" stroke="#ff2020" stroke-width="1.3" stroke-dasharray="3.2,2.2"/>
<path d="M520.3,462.4 L524.6,461.8 L523.8,470.8 Z" fill="#ff2020"/>
<line x1="524.5" y1="470.2" x2="664" y2="470.2" stroke="#ff2020" stroke-width="1.3" stroke-dasharray="3.2,2.2"/>
<line x1="514.00" y1="475.7" x2="514.00" y2="472.9" stroke="#141414" stroke-width="1.3"/>
<line x1="569.60" y1="475.7" x2="569.60" y2="472.9" stroke="#141414" stroke-width="1.3"/>
<line x1="625.20" y1="475.7" x2="625.20" y2="472.9" stroke="#141414" stroke-width="1.3"/>
<line x1="486.20" y1="475.7" x2="486.20" y2="473.9" stroke="#141414" stroke-width="1.3"/>
<line x1="541.80" y1="475.7" x2="541.80" y2="473.9" stroke="#141414" stroke-width="1.3"/>
<line x1="597.40" y1="475.7" x2="597.40" y2="473.9" stroke="#141414" stroke-width="1.3"/>
<line x1="653.00" y1="475.7" x2="653.00" y2="473.9" stroke="#141414" stroke-width="1.3"/>
<text x="0" y="0" transform="translate(514.30,487.00) scale(0.97,1.08)" font-family="Liberation Sans" font-size="9.3" font-weight="bold" text-anchor="middle" fill="#0c0c0c" stroke="#0c0c0c" stroke-width="0.12">2</text>
<text x="0" y="0" transform="translate(569.90,487.00) scale(0.97,1.08)" font-family="Liberation Sans" font-size="9.3" font-weight="bold" text-anchor="middle" fill="#0c0c0c" stroke="#0c0c0c" stroke-width="0.12">1</text>
<text x="0" y="0" transform="translate(625.50,487.00) scale(0.97,1.08)" font-family="Liberation Sans" font-size="9.3" font-weight="bold" text-anchor="middle" fill="#0c0c0c" stroke="#0c0c0c" stroke-width="0.12">0</text>
<text x="0" y="0" transform="translate(681.10,487.00) scale(0.97,1.08)" font-family="Liberation Sans" font-size="9.3" font-weight="bold" text-anchor="middle" fill="#0c0c0c" stroke="#0c0c0c" stroke-width="0.12">&#8722;1</text>
<text x="543.64" y="501.0" font-family="Liberation Sans" font-size="9.81" font-weight="bold" text-anchor="start" fill="#0c0c0c" stroke="#0c0c0c" stroke-width="0.32" >Binding energy (eV)</text>
<text x="564.45" y="421.0" font-family="Liberation Sans" font-size="9.8" font-weight="bold" text-anchor="start" fill="#0c0c0c" stroke="#0c0c0c" stroke-width="0.32" >E</text>
<text x="571.0" y="422.9" font-family="Liberation Sans" font-size="7.0" font-weight="bold" text-anchor="start" fill="#0c0c0c" stroke="#0c0c0c" stroke-width="0.32" >F</text>
<text x="578.0" y="421.0" font-family="Liberation Sans" font-size="9.8" font-weight="bold" text-anchor="start" fill="#0c0c0c" stroke="#0c0c0c" stroke-width="0.32" >-</text>
<text x="583.6" y="421.0" font-family="Liberation Sans" font-size="9.8" font-weight="bold" text-anchor="start" fill="#0c0c0c" stroke="#0c0c0c" stroke-width="0.32" >E</text>
<text x="590.75" y="422.9" font-family="Liberation Sans" font-size="6.98" font-weight="bold" text-anchor="start" fill="#0c0c0c" stroke="#0c0c0c" stroke-width="0.32" >VBM</text>
<text x="607.38" y="421.0" font-family="Liberation Sans" font-size="10.09" font-weight="bold" text-anchor="start" fill="#0c0c0c" stroke="#0c0c0c" stroke-width="0.32" >= 1.80 eV</text>
<text x="0" y="0" transform="translate(469.5,384.2) rotate(-90)" font-family="Liberation Sans" font-size="9" font-weight="bold" text-anchor="middle" fill="#0c0c0c" stroke="#0c0c0c" stroke-width="0.32">Intensity (a.u.)</text></g></svg>
</body></html>
